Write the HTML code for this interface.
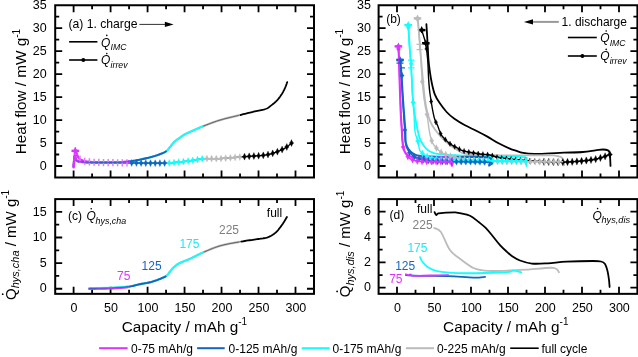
<!DOCTYPE html><html><head><meta charset="utf-8"><style>html,body{margin:0;padding:0;background:#fff;width:638px;height:357px;overflow:hidden}</style></head><body><svg width="638" height="357" viewBox="0 0 638 357" style="position:absolute;left:0;top:0;font-family:'Liberation Sans', sans-serif;will-change:transform">
<rect width="638" height="357" fill="#fff"/>
<path d="M73.60,177.50V170.50M73.60,5.25V12.25M110.58,177.50V170.50M110.58,5.25V12.25M147.57,177.50V170.50M147.57,5.25V12.25M184.55,177.50V170.50M184.55,5.25V12.25M221.53,177.50V170.50M221.53,5.25V12.25M258.52,177.50V170.50M258.52,5.25V12.25M295.50,177.50V170.50M295.50,5.25V12.25M92.09,177.50V173.50M92.09,5.25V9.25M129.07,177.50V173.50M129.07,5.25V9.25M166.06,177.50V173.50M166.06,5.25V9.25M203.04,177.50V173.50M203.04,5.25V9.25M240.03,177.50V173.50M240.03,5.25V9.25M277.01,177.50V173.50M277.01,5.25V9.25M55.20,166.00H62.20M314.00,166.00H307.00M55.20,143.03H62.20M314.00,143.03H307.00M55.20,120.07H62.20M314.00,120.07H307.00M55.20,97.10H62.20M314.00,97.10H307.00M55.20,74.13H62.20M314.00,74.13H307.00M55.20,51.17H62.20M314.00,51.17H307.00M55.20,28.20H62.20M314.00,28.20H307.00M55.20,154.52H59.20M314.00,154.52H310.00M55.20,131.55H59.20M314.00,131.55H310.00M55.20,108.58H59.20M314.00,108.58H310.00M55.20,85.62H59.20M314.00,85.62H310.00M55.20,62.65H59.20M314.00,62.65H310.00M55.20,39.68H59.20M314.00,39.68H310.00M55.20,16.72H59.20M314.00,16.72H310.00" stroke="#000" stroke-width="1.8" fill="none"/>
<rect x="55.20" y="5.25" width="258.80" height="172.25" fill="none" stroke="#000" stroke-width="2"/>
<path d="M397.00,177.50V170.50M397.00,5.25V12.25M434.00,177.50V170.50M434.00,5.25V12.25M471.00,177.50V170.50M471.00,5.25V12.25M508.00,177.50V170.50M508.00,5.25V12.25M545.00,177.50V170.50M545.00,5.25V12.25M582.00,177.50V170.50M582.00,5.25V12.25M619.00,177.50V170.50M619.00,5.25V12.25M415.50,177.50V173.50M415.50,5.25V9.25M452.50,177.50V173.50M452.50,5.25V9.25M489.50,177.50V173.50M489.50,5.25V9.25M526.50,177.50V173.50M526.50,5.25V9.25M563.50,177.50V173.50M563.50,5.25V9.25M600.50,177.50V173.50M600.50,5.25V9.25M378.60,166.00H385.60M637.40,166.00H630.40M378.60,143.03H385.60M637.40,143.03H630.40M378.60,120.07H385.60M637.40,120.07H630.40M378.60,97.10H385.60M637.40,97.10H630.40M378.60,74.13H385.60M637.40,74.13H630.40M378.60,51.17H385.60M637.40,51.17H630.40M378.60,28.20H385.60M637.40,28.20H630.40M378.60,154.52H382.60M637.40,154.52H633.40M378.60,131.55H382.60M637.40,131.55H633.40M378.60,108.58H382.60M637.40,108.58H633.40M378.60,85.62H382.60M637.40,85.62H633.40M378.60,62.65H382.60M637.40,62.65H633.40M378.60,39.68H382.60M637.40,39.68H633.40M378.60,16.72H382.60M637.40,16.72H633.40" stroke="#000" stroke-width="1.8" fill="none"/>
<rect x="378.60" y="5.25" width="258.80" height="172.25" fill="none" stroke="#000" stroke-width="2"/>
<path d="M73.60,293.85V286.85M73.60,199.10V206.10M110.58,293.85V286.85M110.58,199.10V206.10M147.57,293.85V286.85M147.57,199.10V206.10M184.55,293.85V286.85M184.55,199.10V206.10M221.53,293.85V286.85M221.53,199.10V206.10M258.52,293.85V286.85M258.52,199.10V206.10M295.50,293.85V286.85M295.50,199.10V206.10M92.09,293.85V289.85M92.09,199.10V203.10M129.07,293.85V289.85M129.07,199.10V203.10M166.06,293.85V289.85M166.06,199.10V203.10M203.04,293.85V289.85M203.04,199.10V203.10M240.03,293.85V289.85M240.03,199.10V203.10M277.01,293.85V289.85M277.01,199.10V203.10M55.20,288.75H62.20M314.00,288.75H307.00M55.20,263.12H62.20M314.00,263.12H307.00M55.20,237.48H62.20M314.00,237.48H307.00M55.20,211.85H62.20M314.00,211.85H307.00M55.20,275.93H59.20M314.00,275.93H310.00M55.20,250.30H59.20M314.00,250.30H310.00M55.20,224.67H59.20M314.00,224.67H310.00" stroke="#000" stroke-width="1.8" fill="none"/>
<rect x="55.20" y="199.10" width="258.80" height="94.75" fill="none" stroke="#000" stroke-width="2"/>
<path d="M397.00,293.85V286.85M397.00,199.10V206.10M434.00,293.85V286.85M434.00,199.10V206.10M471.00,293.85V286.85M471.00,199.10V206.10M508.00,293.85V286.85M508.00,199.10V206.10M545.00,293.85V286.85M545.00,199.10V206.10M582.00,293.85V286.85M582.00,199.10V206.10M619.00,293.85V286.85M619.00,199.10V206.10M415.50,293.85V289.85M415.50,199.10V203.10M452.50,293.85V289.85M452.50,199.10V203.10M489.50,293.85V289.85M489.50,199.10V203.10M526.50,293.85V289.85M526.50,199.10V203.10M563.50,293.85V289.85M563.50,199.10V203.10M600.50,293.85V289.85M600.50,199.10V203.10M378.60,287.70H385.60M637.40,287.70H630.40M378.60,262.37H385.60M637.40,262.37H630.40M378.60,237.03H385.60M637.40,237.03H630.40M378.60,211.70H385.60M637.40,211.70H630.40M378.60,275.03H382.60M637.40,275.03H633.40M378.60,249.70H382.60M637.40,249.70H633.40M378.60,224.37H382.60M637.40,224.37H633.40" stroke="#000" stroke-width="1.8" fill="none"/>
<rect x="378.60" y="199.10" width="258.80" height="94.75" fill="none" stroke="#000" stroke-width="2"/>
<text x="46.60" y="169.70" font-size="12.5" text-anchor="end" fill="#000" >0</text>
<text x="370.90" y="169.70" font-size="12.5" text-anchor="end" fill="#000" >0</text>
<text x="46.60" y="146.73" font-size="12.5" text-anchor="end" fill="#000" >5</text>
<text x="370.90" y="146.73" font-size="12.5" text-anchor="end" fill="#000" >5</text>
<text x="46.60" y="123.77" font-size="12.5" text-anchor="end" fill="#000" >10</text>
<text x="370.90" y="123.77" font-size="12.5" text-anchor="end" fill="#000" >10</text>
<text x="46.60" y="100.80" font-size="12.5" text-anchor="end" fill="#000" >15</text>
<text x="370.90" y="100.80" font-size="12.5" text-anchor="end" fill="#000" >15</text>
<text x="46.60" y="77.83" font-size="12.5" text-anchor="end" fill="#000" >20</text>
<text x="370.90" y="77.83" font-size="12.5" text-anchor="end" fill="#000" >20</text>
<text x="46.60" y="54.87" font-size="12.5" text-anchor="end" fill="#000" >25</text>
<text x="370.90" y="54.87" font-size="12.5" text-anchor="end" fill="#000" >25</text>
<text x="46.60" y="31.90" font-size="12.5" text-anchor="end" fill="#000" >30</text>
<text x="370.90" y="31.90" font-size="12.5" text-anchor="end" fill="#000" >30</text>
<text x="46.60" y="8.93" font-size="12.5" text-anchor="end" fill="#000" >35</text>
<text x="370.90" y="8.93" font-size="12.5" text-anchor="end" fill="#000" >35</text>
<text x="46.60" y="292.45" font-size="12.5" text-anchor="end" fill="#000" >0</text>
<text x="46.60" y="266.82" font-size="12.5" text-anchor="end" fill="#000" >5</text>
<text x="46.60" y="241.18" font-size="12.5" text-anchor="end" fill="#000" >10</text>
<text x="46.60" y="215.55" font-size="12.5" text-anchor="end" fill="#000" >15</text>
<text x="370.90" y="291.40" font-size="12.5" text-anchor="end" fill="#000" >0</text>
<text x="370.90" y="266.07" font-size="12.5" text-anchor="end" fill="#000" >2</text>
<text x="370.90" y="240.73" font-size="12.5" text-anchor="end" fill="#000" >4</text>
<text x="370.90" y="215.40" font-size="12.5" text-anchor="end" fill="#000" >6</text>
<text x="74.00" y="312.00" font-size="12.5" text-anchor="middle" fill="#000" >0</text>
<text x="397.40" y="312.00" font-size="12.5" text-anchor="middle" fill="#000" >0</text>
<text x="110.98" y="312.00" font-size="12.5" text-anchor="middle" fill="#000" >50</text>
<text x="434.40" y="312.00" font-size="12.5" text-anchor="middle" fill="#000" >50</text>
<text x="147.97" y="312.00" font-size="12.5" text-anchor="middle" fill="#000" >100</text>
<text x="471.40" y="312.00" font-size="12.5" text-anchor="middle" fill="#000" >100</text>
<text x="184.95" y="312.00" font-size="12.5" text-anchor="middle" fill="#000" >150</text>
<text x="508.40" y="312.00" font-size="12.5" text-anchor="middle" fill="#000" >150</text>
<text x="221.93" y="312.00" font-size="12.5" text-anchor="middle" fill="#000" >200</text>
<text x="545.40" y="312.00" font-size="12.5" text-anchor="middle" fill="#000" >200</text>
<text x="258.92" y="312.00" font-size="12.5" text-anchor="middle" fill="#000" >250</text>
<text x="582.40" y="312.00" font-size="12.5" text-anchor="middle" fill="#000" >250</text>
<text x="295.90" y="312.00" font-size="12.5" text-anchor="middle" fill="#000" >300</text>
<text x="619.40" y="312.00" font-size="12.5" text-anchor="middle" fill="#000" >300</text>
<text x="184.40" y="331.80" font-size="15.3" text-anchor="middle" fill="#000" >Capacity / mAh g<tspan font-size="10" dy="-6.5">-1</tspan></text>
<text x="505.80" y="331.80" font-size="15.3" text-anchor="middle" fill="#000" >Capacity / mAh g<tspan font-size="10" dy="-6.5">-1</tspan></text>
<text transform="translate(26.2,154.2) rotate(-90)" font-size="15.3">Heat flow / mW g<tspan font-size="10" dy="-6.5">-1</tspan></text>
<text transform="translate(349.8,154.2) rotate(-90)" font-size="15.3">Heat flow / mW g<tspan font-size="10" dy="-6.5">-1</tspan></text>
<text transform="translate(15.6,300.0) rotate(-90)" font-size="15">Q<tspan font-size="11" font-style="italic" dy="3.5">hys,cha</tspan><tspan dy="-3.5"> / mW g</tspan><tspan font-size="10" dy="-6.5">-1</tspan></text>
<circle cx="2.70" cy="294.20" r="0.9" fill="#000"/>
<text transform="translate(350.0,297.2) rotate(-90)" font-size="15">Q<tspan font-size="11" font-style="italic" dy="3.6">hys,dis</tspan><tspan dy="-3.6"> / mW g</tspan><tspan font-size="10" dy="-6.5">-1</tspan></text>
<circle cx="337.10" cy="291.40" r="0.9" fill="#000"/>
<defs><clipPath id="cA"><rect x="56" y="6" width="257" height="171"/></clipPath><clipPath id="cB"><rect x="379.5" y="6" width="257" height="171"/></clipPath></defs>
<g clip-path="url(#cA)">
<path d="M240.17,115.01 L241.79,114.61 L243.31,114.23 L244.74,113.87 L246.09,113.53 L247.39,113.21 L248.64,112.90 L249.87,112.60 L251.09,112.30 L252.32,112.01 L253.56,111.71 L254.84,111.41 L256.14,111.13 L257.44,110.86 L258.74,110.59 L260.01,110.33 L261.23,110.07 L262.40,109.80 L263.49,109.54 L264.50,109.27 L265.40,109.00 L266.16,108.73 L266.80,108.48 L267.33,108.23 L267.79,107.99 L268.19,107.74 L268.57,107.48 L268.95,107.19 L269.36,106.87 L269.81,106.51 L270.35,106.10 L270.96,105.65 L271.61,105.15 L272.29,104.61 L272.99,104.05 L273.71,103.46 L274.42,102.85 L275.13,102.22 L275.81,101.59 L276.47,100.95 L277.08,100.32 L277.67,99.67 L278.24,99.01 L278.79,98.33 L279.33,97.64 L279.85,96.95 L280.35,96.25 L280.84,95.54 L281.30,94.85 L281.75,94.15 L282.19,93.47 L282.60,92.79 L282.99,92.10 L283.37,91.40 L283.72,90.70 L284.06,90.01 L284.39,89.33 L284.69,88.66 L284.98,88.02 L285.26,87.40 L285.51,86.81 L285.76,86.24 L285.99,85.67 L286.20,85.10 L286.39,84.55 L286.57,84.03 L286.74,83.54 L286.88,83.09 L287.01,82.69 L287.12,82.35 L287.22,82.08" fill="none" stroke="#000000" stroke-width="1.8" stroke-linejoin="round" stroke-linecap="round"/>
<path d="M73.60,166.46 L73.67,165.80 L73.75,164.88 L73.85,163.77 L73.96,162.53 L74.09,161.23 L74.21,159.96 L74.34,158.76 L74.47,157.71 L74.59,156.89 L74.71,156.35 L74.82,156.11 L74.93,156.10 L75.03,156.26 L75.14,156.57 L75.24,156.99 L75.35,157.46 L75.46,157.95 L75.57,158.41 L75.69,158.81 L75.82,159.11 L75.94,159.34 L76.06,159.55 L76.17,159.76 L76.28,159.96 L76.40,160.14 L76.53,160.32 L76.68,160.49 L76.85,160.65 L77.06,160.80 L77.30,160.95 L77.56,161.08 L77.84,161.20 L78.13,161.30 L78.44,161.40 L78.78,161.49 L79.14,161.58 L79.55,161.65 L79.98,161.73 L80.47,161.80 L81.00,161.87 L81.55,161.93 L82.12,161.99 L82.71,162.04 L83.33,162.09 L84.00,162.14 L84.72,162.18 L85.51,162.22 L86.38,162.26 L87.34,162.29 L88.39,162.33 L89.57,162.36 L90.88,162.39 L92.29,162.42 L93.78,162.45 L95.33,162.48 L96.91,162.50 L98.52,162.52 L100.11,162.54 L101.67,162.55 L103.19,162.56 L104.68,162.56 L106.19,162.56 L107.72,162.57 L109.25,162.57 L110.77,162.56 L112.28,162.55 L113.76,162.53 L115.21,162.51 L116.62,162.47 L117.98,162.42 L119.29,162.36 L120.56,162.28 L121.80,162.20 L123.00,162.11 L124.18,162.02 L125.34,161.91 L126.48,161.79 L127.60,161.67 L128.71,161.54 L129.81,161.41 L130.90,161.26 L131.96,161.11 L133.00,160.94 L134.03,160.77 L135.03,160.59 L136.03,160.41 L137.03,160.21 L138.02,160.02 L139.02,159.82 L140.02,159.62 L141.04,159.41 L142.06,159.19 L143.09,158.97 L144.11,158.74 L145.13,158.51 L146.14,158.28 L147.14,158.04 L148.12,157.80 L149.08,157.56 L150.01,157.32 L150.91,157.08 L151.80,156.84 L152.66,156.61 L153.50,156.37 L154.33,156.12 L155.15,155.88 L155.96,155.62 L156.77,155.36 L157.57,155.08 L158.37,154.79 L159.17,154.49 L159.99,154.19 L160.81,153.87 L161.63,153.55 L162.43,153.22 L163.22,152.88 L163.97,152.53 L164.69,152.16 L165.36,151.79 L165.98,151.39 L166.54,150.98 L167.05,150.56 L167.50,150.12 L167.92,149.66 L168.31,149.20 L168.68,148.72 L169.04,148.25 L169.41,147.76 L169.79,147.28 L170.20,146.80 L170.62,146.31 L171.02,145.81 L171.42,145.30 L171.82,144.79 L172.23,144.27 L172.63,143.76 L173.05,143.25 L173.49,142.75 L173.94,142.26 L174.42,141.79 L174.92,141.34 L175.46,140.89 L176.01,140.44 L176.59,140.01 L177.17,139.58 L177.75,139.17 L178.33,138.76 L178.89,138.37 L179.44,137.98 L179.96,137.61 L180.46,137.26 L180.92,136.92 L181.37,136.60 L181.81,136.29 L182.24,135.99 L182.68,135.69 L183.12,135.40 L183.57,135.11 L184.05,134.83 L184.55,134.54 L185.04,134.26 L185.51,134.01 L185.95,133.78 L186.41,133.56 L186.88,133.33 L187.41,133.08 L187.99,132.82 L188.66,132.52 L189.43,132.18 L190.32,131.78 L191.34,131.32 L192.46,130.82 L193.68,130.27 L194.99,129.69 L196.36,129.08 L197.78,128.46 L199.24,127.83 L200.72,127.20 L202.22,126.59 L203.71,125.99 L205.20,125.40 L206.71,124.81 L208.25,124.21 L209.82,123.61 L211.42,123.01 L213.05,122.41 L214.72,121.82 L216.43,121.24 L218.18,120.67 L219.98,120.11 L221.87,119.56 L223.88,119.01 L225.96,118.47 L228.10,117.93 L230.26,117.40 L232.40,116.89 L234.49,116.39 L236.51,115.91 L238.41,115.45" fill="none" stroke="#bbbbbb" stroke-width="2.3" stroke-linejoin="round" stroke-linecap="round"/>
<path d="M73.60,166.46 L73.67,165.80 L73.75,164.88 L73.85,163.77 L73.96,162.53 L74.09,161.23 L74.21,159.96 L74.34,158.76 L74.47,157.71 L74.59,156.89 L74.71,156.35 L74.82,156.11 L74.93,156.10 L75.03,156.26 L75.14,156.57 L75.24,156.99 L75.35,157.46 L75.46,157.95 L75.57,158.41 L75.69,158.81 L75.82,159.11 L75.94,159.34 L76.06,159.55 L76.17,159.76 L76.28,159.96 L76.40,160.14 L76.53,160.32 L76.68,160.49 L76.85,160.65 L77.06,160.80 L77.30,160.95 L77.56,161.08 L77.84,161.20 L78.13,161.30 L78.44,161.40 L78.78,161.49 L79.14,161.58 L79.55,161.65 L79.98,161.73 L80.47,161.80 L81.00,161.87 L81.55,161.93 L82.12,161.99 L82.71,162.04 L83.33,162.09 L84.00,162.14 L84.72,162.18 L85.51,162.22 L86.38,162.26 L87.34,162.29 L88.39,162.33 L89.57,162.36 L90.88,162.39 L92.29,162.42 L93.78,162.45 L95.33,162.48 L96.91,162.50 L98.52,162.52 L100.11,162.54 L101.67,162.55 L103.19,162.56 L104.68,162.56 L106.19,162.56 L107.72,162.57 L109.25,162.57 L110.77,162.56 L112.28,162.55 L113.76,162.53 L115.21,162.51 L116.62,162.47 L117.98,162.42 L119.29,162.36 L120.56,162.28 L121.80,162.20 L123.00,162.11 L124.18,162.02 L125.34,161.91 L126.48,161.79 L127.60,161.67 L128.71,161.54 L129.81,161.41 L130.90,161.26 L131.96,161.11 L133.00,160.94 L134.03,160.77 L135.03,160.59 L136.03,160.41 L137.03,160.21 L138.02,160.02 L139.02,159.82 L140.02,159.62 L141.04,159.41 L142.06,159.19 L143.09,158.97 L144.11,158.74 L145.13,158.51 L146.14,158.28 L147.14,158.04 L148.12,157.80 L149.08,157.56 L150.01,157.32 L150.91,157.08 L151.80,156.84 L152.66,156.61 L153.50,156.37 L154.33,156.12 L155.15,155.88 L155.96,155.62 L156.77,155.36 L157.57,155.08 L158.37,154.79 L159.17,154.49 L159.99,154.19 L160.81,153.87 L161.63,153.55 L162.43,153.22 L163.22,152.88 L163.97,152.53 L164.69,152.16 L165.36,151.79 L165.98,151.39 L166.54,150.98 L167.05,150.56 L167.50,150.12 L167.92,149.66 L168.31,149.20 L168.68,148.72 L169.04,148.25 L169.41,147.76 L169.79,147.28 L170.20,146.80 L170.62,146.31 L171.02,145.81 L171.42,145.30 L171.82,144.79 L172.23,144.27 L172.63,143.76 L173.05,143.25 L173.49,142.75 L173.94,142.26 L174.42,141.79 L174.92,141.34 L175.46,140.89 L176.01,140.44 L176.59,140.01 L177.17,139.58 L177.75,139.17 L178.33,138.76 L178.89,138.37 L179.44,137.98 L179.96,137.61 L180.46,137.26 L180.92,136.92 L181.37,136.60 L181.81,136.29 L182.24,135.99 L182.68,135.69 L183.12,135.40 L183.57,135.11 L184.05,134.83 L184.55,134.54 L185.04,134.26 L185.51,134.01 L185.95,133.78 L186.41,133.56 L186.88,133.33 L187.41,133.08 L187.99,132.82 L188.66,132.52 L189.43,132.18 L190.32,131.78 L191.34,131.32 L192.46,130.82 L193.68,130.27 L194.99,129.69 L196.36,129.08 L197.78,128.46 L199.24,127.83 L200.72,127.20 L202.22,126.59 L203.71,125.99 L205.20,125.40 L206.71,124.81 L208.25,124.21 L209.82,123.61 L211.42,123.01 L213.05,122.41 L214.72,121.82 L216.43,121.24 L218.18,120.67 L219.98,120.11 L221.87,119.56 L223.88,119.01 L225.96,118.47 L228.10,117.93 L230.26,117.40 L232.40,116.89 L234.49,116.39 L236.51,115.91 L238.41,115.45" fill="none" stroke="#444" stroke-width="0.75" stroke-linejoin="round" stroke-linecap="round"/>
<path d="M73.60,166.46 L73.67,165.80 L73.75,164.88 L73.85,163.77 L73.96,162.53 L74.09,161.23 L74.21,159.96 L74.34,158.76 L74.47,157.71 L74.59,156.89 L74.71,156.35 L74.82,156.11 L74.93,156.10 L75.03,156.26 L75.14,156.57 L75.24,156.99 L75.35,157.46 L75.46,157.95 L75.57,158.41 L75.69,158.81 L75.82,159.11 L75.94,159.34 L76.06,159.55 L76.17,159.76 L76.28,159.96 L76.40,160.14 L76.53,160.32 L76.68,160.49 L76.85,160.65 L77.06,160.80 L77.30,160.95 L77.56,161.08 L77.84,161.20 L78.13,161.30 L78.44,161.40 L78.78,161.49 L79.14,161.58 L79.55,161.65 L79.98,161.73 L80.47,161.80 L81.00,161.87 L81.55,161.93 L82.12,161.99 L82.71,162.04 L83.33,162.09 L84.00,162.14 L84.72,162.18 L85.51,162.22 L86.38,162.26 L87.34,162.29 L88.39,162.33 L89.57,162.36 L90.88,162.39 L92.29,162.42 L93.78,162.45 L95.33,162.48 L96.91,162.50 L98.52,162.52 L100.11,162.54 L101.67,162.55 L103.19,162.56 L104.68,162.56 L106.19,162.56 L107.72,162.57 L109.25,162.57 L110.77,162.56 L112.28,162.55 L113.76,162.53 L115.21,162.51 L116.62,162.47 L117.98,162.42 L119.29,162.36 L120.56,162.28 L121.80,162.20 L123.00,162.11 L124.18,162.02 L125.34,161.91 L126.48,161.79 L127.60,161.67 L128.71,161.54 L129.81,161.41 L130.90,161.26 L131.96,161.11 L133.00,160.94 L134.03,160.77 L135.03,160.59 L136.03,160.41 L137.03,160.21 L138.02,160.02 L139.02,159.82 L140.02,159.62 L141.04,159.41 L142.06,159.19 L143.09,158.97 L144.11,158.74 L145.13,158.51 L146.14,158.28 L147.14,158.04 L148.12,157.80 L149.08,157.56 L150.01,157.32 L150.91,157.08 L151.80,156.84 L152.66,156.61 L153.50,156.37 L154.33,156.12 L155.15,155.88 L155.96,155.62 L156.77,155.36 L157.57,155.08 L158.37,154.79 L159.17,154.49 L159.99,154.19 L160.81,153.87 L161.63,153.55 L162.43,153.22 L163.22,152.88 L163.97,152.53 L164.69,152.16 L165.36,151.79 L165.98,151.39 L166.54,150.98 L167.05,150.56 L167.50,150.12 L167.92,149.66 L168.31,149.20 L168.68,148.72 L169.04,148.25 L169.41,147.76 L169.79,147.28 L170.20,146.80 L170.62,146.31 L171.02,145.81 L171.42,145.30 L171.82,144.79 L172.23,144.27 L172.63,143.76 L173.05,143.25 L173.49,142.75 L173.94,142.26 L174.42,141.79 L174.92,141.34 L175.46,140.89 L176.01,140.44 L176.59,140.01 L177.17,139.58 L177.75,139.17 L178.33,138.76 L178.89,138.37 L179.44,137.98 L179.96,137.61 L180.46,137.26 L180.92,136.92 L181.37,136.60 L181.81,136.29 L182.24,135.99 L182.68,135.69 L183.12,135.40 L183.57,135.11 L184.05,134.83 L184.55,134.54 L185.04,134.26 L185.51,134.01 L185.95,133.78 L186.41,133.56 L186.88,133.33 L187.41,133.08 L187.99,132.82 L188.66,132.52 L189.43,132.18 L190.32,131.78 L191.34,131.32 L192.46,130.82 L193.68,130.27 L194.99,129.69 L196.36,129.08 L197.78,128.46 L199.24,127.83 L200.72,127.20 L202.22,126.59" fill="none" stroke="#11ffff" stroke-width="1.9" stroke-linejoin="round" stroke-linecap="round"/>
<path d="M73.60,166.46 L73.67,165.80 L73.75,164.88 L73.85,163.77 L73.96,162.53 L74.09,161.23 L74.21,159.96 L74.34,158.76 L74.47,157.71 L74.59,156.89 L74.71,156.35 L74.82,156.11 L74.93,156.10 L75.03,156.26 L75.14,156.57 L75.24,156.99 L75.35,157.46 L75.46,157.95 L75.57,158.41 L75.69,158.81 L75.82,159.11 L75.94,159.34 L76.06,159.55 L76.17,159.76 L76.28,159.96 L76.40,160.14 L76.53,160.32 L76.68,160.49 L76.85,160.65 L77.06,160.80 L77.30,160.95 L77.56,161.08 L77.84,161.20 L78.13,161.30 L78.44,161.40 L78.78,161.49 L79.14,161.58 L79.55,161.65 L79.98,161.73 L80.47,161.80 L81.00,161.87 L81.55,161.93 L82.12,161.99 L82.71,162.04 L83.33,162.09 L84.00,162.14 L84.72,162.18 L85.51,162.22 L86.38,162.26 L87.34,162.29 L88.39,162.33 L89.57,162.36 L90.88,162.39 L92.29,162.42 L93.78,162.45 L95.33,162.48 L96.91,162.50 L98.52,162.52 L100.11,162.54 L101.67,162.55 L103.19,162.56 L104.68,162.56 L106.19,162.56 L107.72,162.57 L109.25,162.57 L110.77,162.56 L112.28,162.55 L113.76,162.53 L115.21,162.51 L116.62,162.47 L117.98,162.42 L119.29,162.36 L120.56,162.28 L121.80,162.20 L123.00,162.11 L124.18,162.02 L125.34,161.91 L126.48,161.79 L127.60,161.67 L128.71,161.54 L129.81,161.41 L130.90,161.26 L131.96,161.11 L133.00,160.94 L134.03,160.77 L135.03,160.59 L136.03,160.41 L137.03,160.21 L138.02,160.02 L139.02,159.82 L140.02,159.62 L141.04,159.41 L142.06,159.19 L143.09,158.97 L144.11,158.74 L145.13,158.51 L146.14,158.28 L147.14,158.04 L148.12,157.80 L149.08,157.56 L150.01,157.32 L150.91,157.08 L151.80,156.84 L152.66,156.61 L153.50,156.37 L154.33,156.12 L155.15,155.88 L155.96,155.62 L156.77,155.36 L157.57,155.08 L158.37,154.79 L159.17,154.49 L159.99,154.19 L160.81,153.87 L161.63,153.55 L162.43,153.22 L163.22,152.88 L163.97,152.53 L164.69,152.16 L165.36,151.79 L165.98,151.39" fill="none" stroke="#1166c0" stroke-width="1.9" stroke-linejoin="round" stroke-linecap="round"/>
<path d="M118.34,162.78 L120.43,162.79 L122.53,162.81 L124.62,162.82 L126.67,162.84 L128.65,162.86 L130.55,162.88 L132.36,162.90 L134.10,162.93 L135.78,162.97 L137.43,163.00 L139.06,163.03 L140.69,163.07 L142.34,163.10 L144.02,163.12 L145.76,163.14 L147.57,163.15 L149.47,163.16 L151.48,163.17 L153.55,163.17 L155.66,163.18 L157.78,163.17 L159.89,163.16 L161.94,163.14 L163.92,163.11 L165.80,163.07 L167.54,163.01 L169.15,162.94 L170.66,162.85 L172.09,162.75 L173.45,162.64 L174.75,162.52 L176.01,162.39 L177.23,162.26 L178.44,162.13 L179.64,161.99 L180.85,161.87 L182.05,161.74 L183.20,161.61 L184.32,161.48 L185.41,161.35 L186.49,161.22 L187.56,161.08 L188.63,160.94 L189.72,160.79 L190.82,160.64 L191.95,160.49 L193.07,160.32 L194.17,160.13 L195.26,159.93 L196.34,159.72 L197.45,159.52 L198.59,159.32 L199.77,159.13 L201.02,158.96 L202.35,158.81 L203.78,158.70 L205.30,158.62 L206.91,158.58 L208.58,158.57 L210.31,158.58 L212.10,158.60 L213.94,158.62 L215.80,158.63 L217.70,158.62 L219.61,158.59 L221.53,158.51 L223.51,158.40 L225.59,158.26 L227.74,158.09 L229.92,157.90 L232.12,157.71 L234.30,157.51 L236.43,157.31 L238.48,157.13 L240.43,156.96 L242.24,156.81 L243.94,156.69 L245.55,156.58 L247.09,156.48 L248.56,156.39 L249.96,156.31 L251.32,156.22 L252.62,156.15 L253.88,156.07 L255.10,155.98 L256.30,155.89 L257.44,155.81 L258.52,155.73 L259.53,155.66 L260.50,155.59 L261.43,155.52 L262.33,155.44 L263.22,155.35 L264.11,155.25 L265.00,155.12 L265.91,154.98 L266.83,154.81 L267.74,154.63 L268.63,154.44 L269.52,154.23 L270.40,154.01 L271.27,153.78 L272.15,153.53 L273.03,153.26 L273.91,152.98 L274.79,152.68 L275.70,152.35 L276.64,151.99 L277.59,151.60 L278.55,151.20 L279.50,150.78 L280.43,150.36 L281.33,149.95 L282.17,149.55 L282.96,149.17 L283.67,148.82 L284.29,148.50 L284.85,148.20 L285.35,147.92 L285.80,147.64 L286.21,147.38 L286.59,147.12 L286.97,146.86 L287.33,146.59 L287.71,146.31 L288.10,146.02 L288.52,145.70 L288.95,145.35 L289.38,144.98 L289.81,144.61 L290.23,144.24 L290.62,143.88 L290.99,143.54 L291.31,143.25 L291.58,143.00 L291.80,142.80" fill="none" stroke="#000000" stroke-width="1.3" stroke-linejoin="round" stroke-linecap="round"/>
<path d="M118.34,162.78 L120.43,162.79 L122.53,162.81 L124.62,162.82 L126.67,162.84 L128.65,162.86 L130.55,162.88 L132.36,162.90 L134.10,162.93 L135.78,162.97 L137.43,163.00 L139.06,163.03 L140.69,163.07 L142.34,163.10 L144.02,163.12 L145.76,163.14 L147.57,163.15 L149.47,163.16 L151.48,163.17 L153.55,163.17 L155.66,163.18 L157.78,163.17 L159.89,163.16 L161.94,163.14 L163.92,163.11 L165.80,163.07 L167.54,163.01 L169.15,162.94 L170.66,162.85 L172.09,162.75 L173.45,162.64 L174.75,162.52 L176.01,162.39 L177.23,162.26 L178.44,162.13 L179.64,161.99 L180.85,161.87 L182.05,161.74 L183.20,161.61 L184.32,161.48 L185.41,161.35 L186.49,161.22 L187.56,161.08 L188.63,160.94 L189.72,160.79 L190.82,160.64 L191.95,160.49 L193.07,160.32 L194.17,160.13 L195.26,159.93 L196.34,159.72 L197.45,159.52 L198.59,159.32 L199.77,159.13 L201.02,158.96 L202.35,158.81 L203.78,158.70 L205.30,158.62 L206.91,158.58 L208.58,158.57 L210.31,158.58 L212.10,158.60 L213.94,158.62 L215.80,158.63 L217.70,158.62 L219.61,158.59 L221.53,158.51 L223.51,158.40 L225.59,158.26 L227.74,158.09 L229.92,157.90 L232.12,157.71 L234.30,157.51 L236.43,157.31 L238.48,157.13" fill="none" stroke="#bbbbbb" stroke-width="1.3" stroke-linejoin="round" stroke-linecap="round"/>
<path d="M118.34,162.78 L120.43,162.79 L122.53,162.81 L124.62,162.82 L126.67,162.84 L128.65,162.86 L130.55,162.88 L132.36,162.90 L134.10,162.93 L135.78,162.97 L137.43,163.00 L139.06,163.03 L140.69,163.07 L142.34,163.10 L144.02,163.12 L145.76,163.14 L147.57,163.15 L149.47,163.16 L151.48,163.17 L153.55,163.17 L155.66,163.18 L157.78,163.17 L159.89,163.16 L161.94,163.14 L163.92,163.11 L165.80,163.07 L167.54,163.01 L169.15,162.94 L170.66,162.85 L172.09,162.75 L173.45,162.64 L174.75,162.52 L176.01,162.39 L177.23,162.26 L178.44,162.13 L179.64,161.99 L180.85,161.87 L182.05,161.74 L183.20,161.61 L184.32,161.48 L185.41,161.35 L186.49,161.22 L187.56,161.08 L188.63,160.94 L189.72,160.79 L190.82,160.64 L191.95,160.49 L193.07,160.32 L194.17,160.13 L195.26,159.93 L196.34,159.72 L197.45,159.52 L198.59,159.32 L199.77,159.13 L201.02,158.96 L202.35,158.81" fill="none" stroke="#11ffff" stroke-width="1.3" stroke-linejoin="round" stroke-linecap="round"/>
<path d="M118.34,162.78 L120.43,162.79 L122.53,162.81 L124.62,162.82 L126.67,162.84 L128.65,162.86 L130.55,162.88 L132.36,162.90 L134.10,162.93 L135.78,162.97 L137.43,163.00 L139.06,163.03 L140.69,163.07 L142.34,163.10 L144.02,163.12 L145.76,163.14 L147.57,163.15 L149.47,163.16 L151.48,163.17 L153.55,163.17 L155.66,163.18 L157.78,163.17 L159.89,163.16 L161.94,163.14 L163.92,163.11 L165.80,163.07" fill="none" stroke="#1166c0" stroke-width="1.3" stroke-linejoin="round" stroke-linecap="round"/>
<path d="M244.50,153.15L245.60,155.55L246.80,156.65L245.60,157.75L244.50,160.15L243.40,157.75L242.20,156.65L243.40,155.55ZM249.20,152.85L250.30,155.25L251.50,156.35L250.30,157.45L249.20,159.85L248.10,157.45L246.90,156.35L248.10,155.25ZM253.90,152.56L255.00,154.96L256.20,156.06L255.00,157.16L253.90,159.56L252.80,157.16L251.60,156.06L252.80,154.96ZM258.60,152.23L259.70,154.63L260.90,155.73L259.70,156.83L258.60,159.23L257.50,156.83L256.30,155.73L257.50,154.63ZM263.30,151.84L264.40,154.24L265.60,155.34L264.40,156.44L263.30,158.84L262.20,156.44L261.00,155.34L262.20,154.24ZM268.00,151.07L269.10,153.47L270.30,154.57L269.10,155.67L268.00,158.07L266.90,155.67L265.70,154.57L266.90,153.47ZM272.70,149.86L273.80,152.26L275.00,153.36L273.80,154.46L272.70,156.86L271.60,154.46L270.40,153.36L271.60,152.26ZM277.40,148.18L278.50,150.58L279.70,151.68L278.50,152.78L277.40,155.18L276.30,152.78L275.10,151.68L276.30,150.58ZM282.10,146.08L283.20,148.48L284.40,149.58L283.20,150.68L282.10,153.08L281.00,150.68L279.80,149.58L281.00,148.48ZM286.80,143.47L287.90,145.87L289.10,146.97L287.90,148.07L286.80,150.47L285.70,148.07L284.50,146.97L285.70,145.87ZM291.50,139.57L292.60,141.97L293.80,143.07L292.60,144.17L291.50,146.57L290.40,144.17L289.20,143.07L290.40,141.97Z" fill="#000000" stroke="#000000" stroke-width="0.3" stroke-linejoin="round" />
<path d="M206.90,155.08L208.00,157.48L209.20,158.58L208.00,159.68L206.90,162.08L205.80,159.68L204.60,158.58L205.80,157.48ZM211.60,155.09L212.70,157.49L213.90,158.59L212.70,159.69L211.60,162.09L210.50,159.69L209.30,158.59L210.50,157.49ZM216.30,155.13L217.40,157.53L218.60,158.63L217.40,159.73L216.30,162.13L215.20,159.73L214.00,158.63L215.20,157.53ZM221.00,155.04L222.10,157.44L223.30,158.54L222.10,159.64L221.00,162.04L219.90,159.64L218.70,158.54L219.90,157.44ZM225.70,154.75L226.80,157.15L228.00,158.25L226.80,159.35L225.70,161.75L224.60,159.35L223.40,158.25L224.60,157.15ZM230.40,154.36L231.50,156.76L232.70,157.86L231.50,158.96L230.40,161.36L229.30,158.96L228.10,157.86L229.30,156.76ZM235.10,153.94L236.20,156.34L237.40,157.44L236.20,158.54L235.10,160.94L234.00,158.54L232.80,157.44L234.00,156.34ZM239.80,153.51L240.90,155.91L242.10,157.01L240.90,158.11L239.80,160.51L238.70,158.11L237.50,157.01L238.70,155.91Z" fill="#bbbbbb" stroke="#bbbbbb" stroke-width="0.3" stroke-linejoin="round" />
<path d="M169.30,159.43L170.40,161.83L171.60,162.93L170.40,164.03L169.30,166.43L168.20,164.03L167.00,162.93L168.20,161.83ZM174.00,159.09L175.10,161.49L176.30,162.59L175.10,163.69L174.00,166.09L172.90,163.69L171.70,162.59L172.90,161.49ZM178.70,158.60L179.80,161.00L181.00,162.10L179.80,163.20L178.70,165.60L177.60,163.20L176.40,162.10L177.60,161.00ZM183.40,158.09L184.50,160.49L185.70,161.59L184.50,162.69L183.40,165.09L182.30,162.69L181.10,161.59L182.30,160.49ZM188.10,157.51L189.20,159.91L190.40,161.01L189.20,162.11L188.10,164.51L187.00,162.11L185.80,161.01L187.00,159.91ZM192.80,156.86L193.90,159.26L195.10,160.36L193.90,161.46L192.80,163.86L191.70,161.46L190.50,160.36L191.70,159.26ZM197.50,156.01L198.60,158.41L199.80,159.51L198.60,160.61L197.50,163.01L196.40,160.61L195.20,159.51L196.40,158.41ZM202.20,155.33L203.30,157.73L204.50,158.83L203.30,159.93L202.20,162.33L201.10,159.93L199.90,158.83L201.10,157.73Z" fill="#11ffff" stroke="#11ffff" stroke-width="0.3" stroke-linejoin="round" />
<path d="M131.70,159.39L132.80,161.79L134.00,162.89L132.80,163.99L131.70,166.39L130.60,163.99L129.40,162.89L130.60,161.79ZM136.40,159.48L137.50,161.88L138.70,162.98L137.50,164.08L136.40,166.48L135.30,164.08L134.10,162.98L135.30,161.88ZM141.10,159.57L142.20,161.97L143.40,163.07L142.20,164.17L141.10,166.57L140.00,164.17L138.80,163.07L140.00,161.97ZM145.80,159.64L146.90,162.04L148.10,163.14L146.90,164.24L145.80,166.64L144.70,164.24L143.50,163.14L144.70,162.04ZM150.50,159.66L151.60,162.06L152.80,163.16L151.60,164.26L150.50,166.66L149.40,164.26L148.20,163.16L149.40,162.06ZM155.20,159.68L156.30,162.08L157.50,163.18L156.30,164.28L155.20,166.68L154.10,164.28L152.90,163.18L154.10,162.08ZM159.90,159.66L161.00,162.06L162.20,163.16L161.00,164.26L159.90,166.66L158.80,164.26L157.60,163.16L158.80,162.06ZM164.60,159.60L165.70,162.00L166.90,163.10L165.70,164.20L164.60,166.60L163.50,164.20L162.30,163.10L163.50,162.00Z" fill="#1166c0" stroke="#1166c0" stroke-width="0.3" stroke-linejoin="round" />
<path d="M73.60,167.38 L73.70,166.30 L73.83,164.79 L73.98,162.97 L74.14,160.94 L74.33,158.82 L74.52,156.73 L74.72,154.77 L74.91,153.06 L75.11,151.71 L75.30,150.84 L75.49,150.45 L75.68,150.43 L75.87,150.71 L76.07,151.22 L76.27,151.90 L76.47,152.68 L76.67,153.49 L76.88,154.27 L77.09,154.94 L77.30,155.44 L77.51,155.82 L77.72,156.19 L77.92,156.54 L78.13,156.89 L78.35,157.22 L78.57,157.53 L78.79,157.83 L79.02,158.12 L79.26,158.39 L79.52,158.65 L79.78,158.89 L80.04,159.12 L80.30,159.32 L80.58,159.52 L80.86,159.70 L81.15,159.87 L81.46,160.03 L81.78,160.19 L82.12,160.34 L82.48,160.49 L82.84,160.63 L83.20,160.77 L83.56,160.90 L83.93,161.02 L84.33,161.13 L84.75,161.24 L85.21,161.35 L85.72,161.45 L86.28,161.54 L86.91,161.64 L87.60,161.73 L88.31,161.81 L89.06,161.89 L89.86,161.96 L90.70,162.03 L91.60,162.09 L92.55,162.16 L93.57,162.22 L94.64,162.27 L95.79,162.33 L97.01,162.38 L98.29,162.42 L99.63,162.46 L101.03,162.50 L102.49,162.54 L104.01,162.57 L105.58,162.61 L107.20,162.64 L108.87,162.66 L110.58,162.69 L112.38,162.72 L114.29,162.74 L116.29,162.76 L118.34,162.78 L120.43,162.79 L122.53,162.81 L124.62,162.82 L126.67,162.84 L128.65,162.86" fill="none" stroke="#dd33ff" stroke-width="2.4" stroke-linejoin="round" stroke-linecap="round"/>
<path d="M73.60,166.46 L73.67,165.80 L73.75,164.88 L73.85,163.77 L73.96,162.53 L74.09,161.23 L74.21,159.96 L74.34,158.76 L74.47,157.71 L74.59,156.89 L74.71,156.35 L74.82,156.11 L74.93,156.10 L75.03,156.26 L75.14,156.57 L75.24,156.99 L75.35,157.46 L75.46,157.95 L75.57,158.41 L75.69,158.81 L75.82,159.11 L75.94,159.34 L76.06,159.55 L76.17,159.76 L76.28,159.96 L76.40,160.14 L76.53,160.32 L76.68,160.49 L76.85,160.65 L77.06,160.80 L77.30,160.95 L77.56,161.08 L77.84,161.20 L78.13,161.30 L78.44,161.40 L78.78,161.49 L79.14,161.58 L79.55,161.65 L79.98,161.73 L80.47,161.80 L81.00,161.87 L81.55,161.93 L82.12,161.99 L82.71,162.04 L83.33,162.09 L84.00,162.14 L84.72,162.18 L85.51,162.22 L86.38,162.26 L87.34,162.29 L88.39,162.33 L89.57,162.36 L90.88,162.39 L92.29,162.42 L93.78,162.45 L95.33,162.48 L96.91,162.50 L98.52,162.52 L100.11,162.54 L101.67,162.55 L103.19,162.56 L104.68,162.56 L106.19,162.56 L107.72,162.57 L109.25,162.57 L110.77,162.56 L112.28,162.55 L113.76,162.53 L115.21,162.51 L116.62,162.47 L117.98,162.42 L119.29,162.36 L120.56,162.28 L121.80,162.20 L123.00,162.11 L124.18,162.02 L125.34,161.91 L126.48,161.79 L127.60,161.67 L128.71,161.54" fill="none" stroke="#dd33ff" stroke-width="2.4" stroke-linejoin="round" stroke-linecap="round"/>
<path d="M75.30,147.24V154.44M80.00,155.49V162.69M84.70,157.63V164.83M89.40,158.32V165.52M94.10,158.64V165.84M98.80,158.84V166.04M103.50,158.96V166.16M108.20,159.05V166.25M112.90,159.12V166.32M117.60,159.17V166.37M122.30,159.20V166.40M127.00,159.24V166.44" stroke="#e47cf8" stroke-width="1.5" fill="none"/>
<path d="M76.68,160.49 L76.85,160.65 L77.06,160.80 L77.30,160.95 L77.56,161.08 L77.84,161.20 L78.13,161.30 L78.44,161.40 L78.78,161.49 L79.14,161.58 L79.55,161.65 L79.98,161.73 L80.47,161.80 L81.00,161.87 L81.55,161.93 L82.12,161.99 L82.71,162.04 L83.33,162.09 L84.00,162.14 L84.72,162.18 L85.51,162.22 L86.38,162.26 L87.34,162.29 L88.39,162.33 L89.57,162.36 L90.88,162.39 L92.29,162.42 L93.78,162.45 L95.33,162.48 L96.91,162.50 L98.52,162.52 L100.11,162.54 L101.67,162.55 L103.19,162.56 L104.68,162.56 L106.19,162.56 L107.72,162.57 L109.25,162.57 L110.77,162.56 L112.28,162.55 L113.76,162.53 L115.21,162.51 L116.62,162.47 L117.98,162.42 L119.29,162.36 L120.56,162.28 L121.80,162.20 L123.00,162.11 L124.18,162.02 L125.34,161.91 L126.48,161.79 L127.60,161.67 L128.71,161.54" fill="none" stroke="#1166c0" stroke-width="0.9" stroke-linejoin="round" stroke-linecap="round"/>
<path d="M75.30,146.84L76.60,149.44L79.10,149.64L79.10,152.04L76.60,152.24L75.30,154.04L74.00,152.24L71.50,152.04L71.50,149.64L74.00,149.44Z" fill="#dd33ff"/>
</g>
<g clip-path="url(#cB)">
<path d="M426.40,24.20 C426.60,27.42 427.25,37.53 427.60,43.50 C427.95,49.47 428.12,55.28 428.50,60.00 C428.88,64.72 429.33,67.88 429.90,71.80 C430.47,75.72 431.08,79.75 431.90,83.50 C432.72,87.25 433.50,91.03 434.80,94.30 C436.10,97.57 437.73,100.15 439.70,103.10 C441.67,106.05 444.15,109.38 446.60,112.00 C449.05,114.62 451.33,116.58 454.40,118.80 C457.47,121.02 461.37,123.32 465.00,125.30 C468.63,127.28 472.47,128.82 476.20,130.70 C479.93,132.58 483.67,134.50 487.40,136.60 C491.13,138.70 494.87,141.30 498.60,143.30 C502.33,145.30 507.07,147.43 509.80,148.60 C512.53,149.77 512.77,149.58 515.00,150.30 C517.23,151.02 519.97,152.30 523.20,152.90 C526.43,153.50 529.93,153.83 534.40,153.90 C538.87,153.97 545.08,153.50 550.00,153.30 C554.92,153.10 558.43,152.92 563.90,152.70 C569.37,152.48 577.55,152.38 582.80,152.00 C588.05,151.62 592.03,150.82 595.40,150.40 C598.77,149.98 600.90,149.50 603.00,149.50 C605.10,149.50 606.85,149.77 608.00,150.40 C609.15,151.03 609.53,151.87 609.90,153.30 C610.27,154.73 610.10,156.90 610.20,159.00 C610.30,161.10 610.45,164.75 610.50,165.90" fill="none" stroke="#000000" stroke-width="1.8" stroke-linejoin="round" stroke-linecap="round" />
<path d="M418.00,20.00 C418.33,24.33 419.25,36.83 420.00,46.00 C420.75,55.17 421.67,66.00 422.50,75.00 C423.33,84.00 424.08,93.33 425.00,100.00 C425.92,106.67 426.83,110.83 428.00,115.00 C429.17,119.17 430.17,121.73 432.00,125.00 C433.83,128.27 436.43,131.60 439.00,134.60 C441.57,137.60 444.37,140.43 447.40,143.00 C450.43,145.57 454.27,148.25 457.20,150.00 C460.13,151.75 459.53,152.63 465.00,153.50 C470.47,154.37 476.67,154.88 490.00,155.20 C503.33,155.52 534.17,155.33 545.00,155.40 C555.83,155.47 552.27,155.28 555.00,155.60 C557.73,155.92 559.92,156.32 561.40,157.30 C562.88,158.28 563.47,160.17 563.90,161.50 C564.33,162.83 563.98,164.67 564.00,165.30" fill="none" stroke="#bbbbbb" stroke-width="1.8" stroke-linejoin="round" stroke-linecap="round" />
<path d="M408.50,27.00 C408.63,29.17 408.73,31.17 409.30,40.00 C409.87,48.83 411.35,70.83 411.90,80.00 C412.45,89.17 412.12,89.17 412.60,95.00 C413.08,100.83 414.07,109.72 414.80,115.00 C415.53,120.28 416.27,123.07 417.00,126.70 C417.73,130.33 418.37,134.08 419.20,136.80 C420.03,139.52 420.95,141.17 422.00,143.00 C423.05,144.83 424.17,146.38 425.50,147.80 C426.83,149.22 427.75,150.43 430.00,151.50 C432.25,152.57 433.17,153.52 439.00,154.20 C444.83,154.88 454.83,155.22 465.00,155.60 C475.17,155.98 490.07,156.25 500.00,156.50 C509.93,156.75 520.27,156.52 524.60,157.10 C528.93,157.68 525.68,158.52 526.00,160.00 C526.32,161.48 526.42,165.00 526.50,166.00" fill="none" stroke="#11ffff" stroke-width="1.8" stroke-linejoin="round" stroke-linecap="round" />
<path d="M400.50,62.00 C400.72,65.00 401.38,73.67 401.80,80.00 C402.22,86.33 402.55,93.33 403.00,100.00 C403.45,106.67 404.12,115.00 404.50,120.00 C404.88,125.00 405.08,126.22 405.30,130.00 C405.52,133.78 405.23,139.43 405.80,142.70 C406.37,145.97 407.40,147.72 408.70,149.60 C410.00,151.48 411.55,152.93 413.60,154.00 C415.65,155.07 415.77,155.50 421.00,156.00 C426.23,156.50 433.83,156.75 445.00,157.00 C456.17,157.25 480.67,156.20 488.00,157.50 C495.33,158.80 488.83,163.58 489.00,164.80" fill="none" stroke="#1166c0" stroke-width="2.1" stroke-linejoin="round" stroke-linecap="round" />
<path d="M398.60,48.00 C398.77,53.33 399.27,69.67 399.60,80.00 C399.93,90.33 400.23,101.67 400.60,110.00 C400.97,118.33 401.48,124.67 401.80,130.00 C402.12,135.33 402.13,138.67 402.50,142.00 C402.87,145.33 403.25,147.92 404.00,150.00 C404.75,152.08 405.67,153.33 407.00,154.50 C408.33,155.67 409.83,156.45 412.00,157.00 C414.17,157.55 417.00,157.67 420.00,157.80 C423.00,157.93 424.78,157.80 430.00,157.80 C435.22,157.80 447.67,156.48 451.30,157.80 C454.93,159.12 451.72,164.38 451.80,165.70" fill="none" stroke="#dd33ff" stroke-width="2.1" stroke-linejoin="round" stroke-linecap="round" />
<path d="M421.70,30.10 C422.32,32.20 424.42,37.95 425.40,42.70 C426.38,47.45 427.05,52.38 427.60,58.60 C428.15,64.82 428.28,74.02 428.70,80.00 C429.12,85.98 429.20,88.32 430.10,94.50 C431.00,100.68 432.85,111.93 434.10,117.10 C435.35,122.27 436.43,122.58 437.60,125.50 C438.77,128.42 439.70,132.15 441.10,134.60 C442.50,137.05 444.37,138.57 446.00,140.20 C447.63,141.83 449.03,143.12 450.90,144.40 C452.77,145.68 455.22,146.85 457.20,147.90 C459.18,148.95 460.50,149.93 462.80,150.70 C465.10,151.47 468.13,151.95 471.00,152.50 C473.87,153.05 476.85,153.58 480.00,154.00 C483.15,154.42 486.57,154.37 489.90,155.00 C493.23,155.63 493.98,156.88 500.00,157.80 C506.02,158.72 518.50,159.83 526.00,160.50 C533.50,161.17 538.47,161.53 545.00,161.80 C551.53,162.07 558.90,162.25 565.20,162.10 C571.50,161.95 577.77,161.38 582.80,160.90 C587.83,160.42 591.83,159.90 595.40,159.20 C598.97,158.50 601.90,157.47 604.20,156.70 C606.50,155.93 607.93,154.95 609.20,154.60 C610.47,154.25 611.37,154.60 611.80,154.60" fill="none" stroke="#000000" stroke-width="1.4" stroke-linejoin="round" stroke-linecap="round" />
<path d="M421.80,27.63L422.68,29.55L423.64,30.43L422.68,31.31L421.80,33.23L420.92,31.31L419.96,30.43L420.92,29.55ZM426.50,46.16L427.38,48.08L428.34,48.96L427.38,49.84L426.50,51.76L425.62,49.84L424.66,48.96L425.62,48.08ZM431.20,98.79L432.08,100.71L433.04,101.59L432.08,102.47L431.20,104.39L430.32,102.47L429.36,101.59L430.32,100.71ZM435.90,119.38L436.78,121.30L437.74,122.18L436.78,123.06L435.90,124.98L435.02,123.06L434.06,122.18L435.02,121.30ZM440.60,130.83L441.48,132.75L442.44,133.63L441.48,134.51L440.60,136.43L439.72,134.51L438.76,133.63L439.72,132.75ZM445.30,136.72L446.18,138.64L447.14,139.52L446.18,140.40L445.30,142.32L444.42,140.40L443.46,139.52L444.42,138.64ZM450.00,140.95L450.88,142.87L451.84,143.75L450.88,144.63L450.00,146.55L449.12,144.63L448.16,143.75L449.12,142.87ZM454.70,143.80L455.58,145.72L456.54,146.60L455.58,147.48L454.70,149.40L453.82,147.48L452.86,146.60L453.82,145.72ZM459.40,146.34L460.28,148.26L461.24,149.14L460.28,150.02L459.40,151.94L458.52,150.02L457.56,149.14L458.52,148.26ZM464.10,148.29L464.98,150.21L465.94,151.09L464.98,151.97L464.10,153.89L463.22,151.97L462.26,151.09L463.22,150.21ZM468.80,149.29L469.68,151.21L470.64,152.09L469.68,152.97L468.80,154.89L467.92,152.97L466.96,152.09L467.92,151.21ZM473.50,150.17L474.38,152.09L475.34,152.97L474.38,153.85L473.50,155.77L472.62,153.85L471.66,152.97L472.62,152.09ZM478.20,150.95L479.08,152.87L480.04,153.75L479.08,154.63L478.20,156.55L477.32,154.63L476.36,153.75L477.32,152.87ZM482.90,151.48L483.78,153.40L484.74,154.28L483.78,155.16L482.90,157.08L482.02,155.16L481.06,154.28L482.02,153.40ZM487.60,151.86L488.48,153.78L489.44,154.66L488.48,155.54L487.60,157.46L486.72,155.54L485.76,154.66L486.72,153.78ZM492.30,152.87L493.18,154.79L494.14,155.67L493.18,156.55L492.30,158.47L491.42,156.55L490.46,155.67L491.42,154.79ZM497.00,154.43L497.88,156.35L498.84,157.23L497.88,158.11L497.00,160.03L496.12,158.11L495.16,157.23L496.12,156.35ZM501.70,155.24L502.58,157.16L503.54,158.04L502.58,158.92L501.70,160.84L500.82,158.92L499.86,158.04L500.82,157.16ZM506.40,155.81L507.28,157.73L508.24,158.61L507.28,159.49L506.40,161.41L505.52,159.49L504.56,158.61L505.52,157.73ZM511.10,156.31L511.98,158.23L512.94,159.11L511.98,159.99L511.10,161.91L510.22,159.99L509.26,159.11L510.22,158.23ZM515.80,156.77L516.68,158.69L517.64,159.57L516.68,160.45L515.80,162.37L514.92,160.45L513.96,159.57L514.92,158.69ZM520.50,157.21L521.38,159.13L522.34,160.01L521.38,160.89L520.50,162.81L519.62,160.89L518.66,160.01L519.62,159.13ZM525.20,157.63L526.08,159.55L527.04,160.43L526.08,161.31L525.20,163.23L524.32,161.31L523.36,160.43L524.32,159.55ZM529.90,158.04L530.78,159.96L531.74,160.84L530.78,161.72L529.90,163.64L529.02,161.72L528.06,160.84L529.02,159.96ZM534.60,158.41L535.48,160.33L536.44,161.21L535.48,162.09L534.60,164.01L533.72,162.09L532.76,161.21L533.72,160.33ZM539.30,158.72L540.18,160.64L541.14,161.52L540.18,162.40L539.30,164.32L538.42,162.40L537.46,161.52L538.42,160.64Z" fill="#000000" stroke="#000000" stroke-width="0.3" stroke-linejoin="round" />
<path d="M544.00,158.08L545.16,160.60L546.42,161.76L545.16,162.91L544.00,165.43L542.85,162.91L541.59,161.76L542.85,160.60ZM548.70,158.26L549.86,160.78L551.12,161.94L549.86,163.09L548.70,165.61L547.55,163.09L546.29,161.94L547.55,160.78ZM553.40,158.40L554.56,160.92L555.82,162.07L554.56,163.23L553.40,165.75L552.25,163.23L550.99,162.07L552.25,160.92ZM558.10,158.47L559.26,160.99L560.52,162.14L559.26,163.30L558.10,165.82L556.95,163.30L555.69,162.14L556.95,160.99ZM562.80,158.47L563.96,160.99L565.22,162.14L563.96,163.30L562.80,165.82L561.65,163.30L560.39,162.14L561.65,160.99ZM567.50,158.35L568.66,160.87L569.92,162.03L568.66,163.18L567.50,165.70L566.35,163.18L565.09,162.03L566.35,160.87ZM572.20,158.11L573.36,160.63L574.62,161.78L573.36,162.94L572.20,165.46L571.05,162.94L569.79,161.78L571.05,160.63ZM576.90,157.76L578.06,160.28L579.32,161.43L578.06,162.59L576.90,165.11L575.75,162.59L574.49,161.43L575.75,160.28ZM581.60,157.34L582.76,159.86L584.02,161.01L582.76,162.17L581.60,164.69L580.45,162.17L579.19,161.01L580.45,159.86ZM586.30,156.86L587.46,159.38L588.72,160.54L587.46,161.69L586.30,164.21L585.15,161.69L583.89,160.54L585.15,159.38ZM591.00,156.27L592.16,158.79L593.42,159.94L592.16,161.10L591.00,163.62L589.85,161.10L588.59,159.94L589.85,158.79ZM595.70,155.46L596.86,157.98L598.12,159.14L596.86,160.29L595.70,162.81L594.55,160.29L593.29,159.14L594.55,157.98ZM600.40,154.26L601.56,156.78L602.82,157.94L601.56,159.09L600.40,161.61L599.25,159.09L597.99,157.94L599.25,156.78ZM605.10,152.70L606.26,155.22L607.52,156.37L606.26,157.53L605.10,160.05L603.95,157.53L602.69,156.37L603.95,155.22ZM609.80,150.80L610.96,153.32L612.22,154.48L610.96,155.63L609.80,158.15L608.65,155.63L607.39,154.48L608.65,153.32Z" fill="#000000" stroke="#000000" stroke-width="0.3" stroke-linejoin="round" />
<path d="M421.70,26.10L423.00,28.70L425.50,28.90L425.50,31.30L423.00,31.50L421.70,33.30L420.40,31.50L417.90,31.30L417.90,28.90L420.40,28.70Z" fill="#000000"/>
<path d="M417.50,18.40 C417.83,22.00 418.83,31.40 419.50,40.00 C420.17,48.60 420.92,61.67 421.50,70.00 C422.08,78.33 422.42,84.17 423.00,90.00 C423.58,95.83 424.32,100.83 425.00,105.00 C425.68,109.17 426.40,110.77 427.10,115.00 C427.80,119.23 428.55,126.48 429.20,130.40 C429.85,134.32 430.30,136.17 431.00,138.50 C431.70,140.83 432.18,142.48 433.40,144.40 C434.62,146.32 436.67,148.48 438.30,150.00 C439.93,151.52 441.22,152.50 443.20,153.50 C445.18,154.50 447.40,155.17 450.20,156.00 C453.00,156.83 455.87,157.75 460.00,158.50 C464.13,159.25 468.33,160.00 475.00,160.50 C481.67,161.00 485.40,161.28 500.00,161.50 C514.60,161.72 552.17,161.75 562.60,161.80" fill="none" stroke="#bbbbbb" stroke-width="1.4" stroke-linejoin="round" stroke-linecap="round" />
<path d="M417.60,15.95L418.70,18.35L419.90,19.45L418.70,20.55L417.60,22.95L416.50,20.55L415.30,19.45L416.50,18.35ZM422.30,78.13L423.40,80.53L424.60,81.63L423.40,82.73L422.30,85.13L421.20,82.73L420.00,81.63L421.20,80.53ZM427.00,110.91L428.10,113.31L429.30,114.41L428.10,115.51L427.00,117.91L425.90,115.51L424.70,114.41L425.90,113.31ZM431.70,137.25L432.80,139.65L434.00,140.75L432.80,141.85L431.70,144.25L430.60,141.85L429.40,140.75L430.60,139.65ZM436.40,144.62L437.50,147.02L438.70,148.12L437.50,149.22L436.40,151.62L435.30,149.22L434.10,148.12L435.30,147.02ZM441.10,148.78L442.20,151.18L443.40,152.28L442.20,153.38L441.10,155.78L440.00,153.38L438.80,152.28L440.00,151.18ZM445.80,151.10L446.90,153.50L448.10,154.60L446.90,155.70L445.80,158.10L444.70,155.70L443.50,154.60L444.70,153.50ZM450.50,152.59L451.60,154.99L452.80,156.09L451.60,157.19L450.50,159.59L449.40,157.19L448.20,156.09L449.40,154.99ZM455.20,153.94L456.30,156.34L457.50,157.44L456.30,158.54L455.20,160.94L454.10,158.54L452.90,157.44L454.10,156.34ZM459.90,154.98L461.00,157.38L462.20,158.48L461.00,159.58L459.90,161.98L458.80,159.58L457.60,158.48L458.80,157.38ZM464.60,155.80L465.70,158.20L466.90,159.30L465.70,160.40L464.60,162.80L463.50,160.40L462.30,159.30L463.50,158.20ZM469.30,156.45L470.40,158.85L471.60,159.95L470.40,161.05L469.30,163.45L468.20,161.05L467.00,159.95L468.20,158.85ZM474.00,156.92L475.10,159.32L476.30,160.42L475.10,161.52L474.00,163.92L472.90,161.52L471.70,160.42L472.90,159.32ZM478.70,157.27L479.80,159.67L481.00,160.77L479.80,161.87L478.70,164.27L477.60,161.87L476.40,160.77L477.60,159.67ZM483.40,157.55L484.50,159.95L485.70,161.05L484.50,162.15L483.40,164.55L482.30,162.15L481.10,161.05L482.30,159.95ZM488.10,157.74L489.20,160.14L490.40,161.24L489.20,162.34L488.10,164.74L487.00,162.34L485.80,161.24L487.00,160.14ZM492.80,157.87L493.90,160.27L495.10,161.37L493.90,162.47L492.80,164.87L491.70,162.47L490.50,161.37L491.70,160.27ZM497.50,157.96L498.60,160.36L499.80,161.46L498.60,162.56L497.50,164.96L496.40,162.56L495.20,161.46L496.40,160.36ZM502.20,158.03L503.30,160.43L504.50,161.53L503.30,162.63L502.20,165.03L501.10,162.63L499.90,161.53L501.10,160.43ZM506.90,158.08L508.00,160.48L509.20,161.58L508.00,162.68L506.90,165.08L505.80,162.68L504.60,161.58L505.80,160.48ZM511.60,158.11L512.70,160.51L513.90,161.61L512.70,162.71L511.60,165.11L510.50,162.71L509.30,161.61L510.50,160.51ZM516.30,158.14L517.40,160.54L518.60,161.64L517.40,162.74L516.30,165.14L515.20,162.74L514.00,161.64L515.20,160.54ZM521.00,158.17L522.10,160.57L523.30,161.67L522.10,162.77L521.00,165.17L519.90,162.77L518.70,161.67L519.90,160.57ZM525.70,158.19L526.80,160.59L528.00,161.69L526.80,162.79L525.70,165.19L524.60,162.79L523.40,161.69L524.60,160.59ZM530.40,158.20L531.50,160.60L532.70,161.70L531.50,162.80L530.40,165.20L529.30,162.80L528.10,161.70L529.30,160.60ZM535.10,158.22L536.20,160.62L537.40,161.72L536.20,162.82L535.10,165.22L534.00,162.82L532.80,161.72L534.00,160.62ZM539.80,158.23L540.90,160.63L542.10,161.73L540.90,162.83L539.80,165.23L538.70,162.83L537.50,161.73L538.70,160.63ZM544.50,158.25L545.60,160.65L546.80,161.75L545.60,162.85L544.50,165.25L543.40,162.85L542.20,161.75L543.40,160.65ZM549.20,158.26L550.30,160.66L551.50,161.76L550.30,162.86L549.20,165.26L548.10,162.86L546.90,161.76L548.10,160.66ZM553.90,158.27L555.00,160.67L556.20,161.77L555.00,162.87L553.90,165.27L552.80,162.87L551.60,161.77L552.80,160.67ZM558.60,158.28L559.70,160.68L560.90,161.78L559.70,162.88L558.60,165.28L557.50,162.88L556.30,161.78L557.50,160.68Z" fill="#bbbbbb" stroke="#bbbbbb" stroke-width="0.3" stroke-linejoin="round" />
<path d="M417.50,14.40L418.80,17.00L421.30,17.20L421.30,19.60L418.80,19.80L417.50,21.60L416.20,19.80L413.70,19.60L413.70,17.20L416.20,17.00Z" fill="#bbbbbb"/>
<path d="M408.20,25.10 C408.37,28.42 408.73,38.45 409.20,45.00 C409.67,51.55 410.45,56.07 411.00,64.40 C411.55,72.73 412.00,86.57 412.50,95.00 C413.00,103.43 413.58,108.92 414.00,115.00 C414.42,121.08 414.42,127.30 415.00,131.50 C415.58,135.70 416.80,137.45 417.50,140.20 C418.20,142.95 418.73,146.13 419.20,148.00 C419.67,149.87 419.50,150.32 420.30,151.40 C421.10,152.48 422.38,153.48 424.00,154.50 C425.62,155.52 427.33,156.67 430.00,157.50 C432.67,158.33 435.00,159.00 440.00,159.50 C445.00,160.00 445.67,160.25 460.00,160.50 C474.33,160.75 515.00,160.92 526.00,161.00" fill="none" stroke="#11ffff" stroke-width="1.4" stroke-linejoin="round" stroke-linecap="round" />
<path d="M408.30,23.78L409.40,26.18L410.60,27.28L409.40,28.38L408.30,30.78L407.20,28.38L406.00,27.28L407.20,26.18ZM413.00,98.84L414.10,101.24L415.30,102.34L414.10,103.44L413.00,105.84L411.90,103.44L410.70,102.34L411.90,101.24ZM417.70,137.52L418.80,139.92L420.00,141.02L418.80,142.12L417.70,144.52L416.60,142.12L415.40,141.02L416.60,139.92ZM422.40,149.91L423.50,152.31L424.70,153.41L423.50,154.51L422.40,156.91L421.30,154.51L420.10,153.41L421.30,152.31ZM427.10,152.83L428.20,155.23L429.40,156.33L428.20,157.43L427.10,159.83L426.00,157.43L424.80,156.33L426.00,155.23ZM431.80,154.54L432.90,156.94L434.10,158.04L432.90,159.14L431.80,161.54L430.70,159.14L429.50,158.04L430.70,156.94ZM436.50,155.56L437.60,157.96L438.80,159.06L437.60,160.16L436.50,162.56L435.40,160.16L434.20,159.06L435.40,157.96ZM441.20,156.12L442.30,158.52L443.50,159.62L442.30,160.72L441.20,163.12L440.10,160.72L438.90,159.62L440.10,158.52ZM445.90,156.56L447.00,158.96L448.20,160.06L447.00,161.16L445.90,163.56L444.80,161.16L443.60,160.06L444.80,158.96ZM450.60,156.78L451.70,159.18L452.90,160.28L451.70,161.38L450.60,163.78L449.50,161.38L448.30,160.28L449.50,159.18ZM455.30,156.91L456.40,159.31L457.60,160.41L456.40,161.51L455.30,163.91L454.20,161.51L453.00,160.41L454.20,159.31ZM460.00,157.00L461.10,159.40L462.30,160.50L461.10,161.60L460.00,164.00L458.90,161.60L457.70,160.50L458.90,159.40ZM464.70,157.07L465.80,159.47L467.00,160.57L465.80,161.67L464.70,164.07L463.60,161.67L462.40,160.57L463.60,159.47ZM469.40,157.12L470.50,159.52L471.70,160.62L470.50,161.72L469.40,164.12L468.30,161.72L467.10,160.62L468.30,159.52ZM474.10,157.17L475.20,159.57L476.40,160.67L475.20,161.77L474.10,164.17L473.00,161.77L471.80,160.67L473.00,159.57ZM478.80,157.20L479.90,159.60L481.10,160.70L479.90,161.80L478.80,164.20L477.70,161.80L476.50,160.70L477.70,159.60ZM483.50,157.24L484.60,159.64L485.80,160.74L484.60,161.84L483.50,164.24L482.40,161.84L481.20,160.74L482.40,159.64ZM488.20,157.27L489.30,159.67L490.50,160.77L489.30,161.87L488.20,164.27L487.10,161.87L485.90,160.77L487.10,159.67ZM492.90,157.30L494.00,159.70L495.20,160.80L494.00,161.90L492.90,164.30L491.80,161.90L490.60,160.80L491.80,159.70ZM497.60,157.33L498.70,159.73L499.90,160.83L498.70,161.93L497.60,164.33L496.50,161.93L495.30,160.83L496.50,159.73ZM502.30,157.36L503.40,159.76L504.60,160.86L503.40,161.96L502.30,164.36L501.20,161.96L500.00,160.86L501.20,159.76ZM507.00,157.39L508.10,159.79L509.30,160.89L508.10,161.99L507.00,164.39L505.90,161.99L504.70,160.89L505.90,159.79ZM511.70,157.41L512.80,159.81L514.00,160.91L512.80,162.01L511.70,164.41L510.60,162.01L509.40,160.91L510.60,159.81ZM516.40,157.44L517.50,159.84L518.70,160.94L517.50,162.04L516.40,164.44L515.30,162.04L514.10,160.94L515.30,159.84ZM521.10,157.47L522.20,159.87L523.40,160.97L522.20,162.07L521.10,164.47L520.00,162.07L518.80,160.97L520.00,159.87ZM525.80,157.50L526.90,159.90L528.10,161.00L526.90,162.10L525.80,164.50L524.70,162.10L523.50,161.00L524.70,159.90Z" fill="#11ffff" stroke="#11ffff" stroke-width="0.3" stroke-linejoin="round" />
<path d="M408.20,21.10L409.50,23.70L412.00,23.90L412.00,26.30L409.50,26.50L408.20,28.30L406.90,26.50L404.40,26.30L404.40,23.90L406.90,23.70Z" fill="#11ffff"/>
<path d="M400.00,60.00 C400.25,63.33 401.03,73.33 401.50,80.00 C401.97,86.67 402.38,93.33 402.80,100.00 C403.22,106.67 403.67,115.00 404.00,120.00 C404.33,125.00 404.58,126.33 404.80,130.00 C405.02,133.67 404.85,138.75 405.30,142.00 C405.75,145.25 406.55,147.50 407.50,149.50 C408.45,151.50 409.58,152.62 411.00,154.00 C412.42,155.38 413.67,156.80 416.00,157.80 C418.33,158.80 421.00,159.38 425.00,160.00 C429.00,160.62 429.40,161.13 440.00,161.50 C450.60,161.87 480.43,161.45 488.60,162.20 C496.77,162.95 488.93,165.37 489.00,166.00" fill="none" stroke="#1166c0" stroke-width="1.4" stroke-linejoin="round" stroke-linecap="round" />
<path d="M400.10,57.82L401.20,60.22L402.40,61.32L401.20,62.42L400.10,64.82L399.00,62.42L397.80,61.32L399.00,60.22ZM404.80,126.50L405.90,128.90L407.10,130.00L405.90,131.10L404.80,133.50L403.70,131.10L402.50,130.00L403.70,128.90ZM409.50,148.97L410.60,151.37L411.80,152.47L410.60,153.57L409.50,155.97L408.40,153.57L407.20,152.47L408.40,151.37ZM414.20,153.33L415.30,155.73L416.50,156.83L415.30,157.93L414.20,160.33L413.10,157.93L411.90,156.83L413.10,155.73ZM418.90,155.29L420.00,157.69L421.20,158.79L420.00,159.89L418.90,162.29L417.80,159.89L416.60,158.79L417.80,157.69ZM423.60,156.28L424.70,158.68L425.90,159.78L424.70,160.88L423.60,163.28L422.50,160.88L421.30,159.78L422.50,158.68ZM428.30,157.08L429.40,159.48L430.60,160.58L429.40,161.68L428.30,164.08L427.20,161.68L426.00,160.58L427.20,159.48ZM433.00,157.64L434.10,160.04L435.30,161.14L434.10,162.24L433.00,164.64L431.90,162.24L430.70,161.14L431.90,160.04ZM437.70,157.91L438.80,160.31L440.00,161.41L438.80,162.51L437.70,164.91L436.60,162.51L435.40,161.41L436.60,160.31ZM442.40,158.06L443.50,160.46L444.70,161.56L443.50,162.66L442.40,165.06L441.30,162.66L440.10,161.56L441.30,160.46ZM447.10,158.13L448.20,160.53L449.40,161.63L448.20,162.73L447.10,165.13L446.00,162.73L444.80,161.63L446.00,160.53ZM451.80,158.16L452.90,160.56L454.10,161.66L452.90,162.76L451.80,165.16L450.70,162.76L449.50,161.66L450.70,160.56ZM456.50,158.18L457.60,160.58L458.80,161.68L457.60,162.78L456.50,165.18L455.40,162.78L454.20,161.68L455.40,160.58ZM461.20,158.19L462.30,160.59L463.50,161.69L462.30,162.79L461.20,165.19L460.10,162.79L458.90,161.69L460.10,160.59ZM465.90,158.21L467.00,160.61L468.20,161.71L467.00,162.81L465.90,165.21L464.80,162.81L463.60,161.71L464.80,160.61ZM470.60,158.23L471.70,160.63L472.90,161.73L471.70,162.83L470.60,165.23L469.50,162.83L468.30,161.73L469.50,160.63ZM475.30,158.27L476.40,160.67L477.60,161.77L476.40,162.87L475.30,165.27L474.20,162.87L473.00,161.77L474.20,160.67ZM480.00,158.35L481.10,160.75L482.30,161.85L481.10,162.95L480.00,165.35L478.90,162.95L477.70,161.85L478.90,160.75ZM484.70,158.48L485.80,160.88L487.00,161.98L485.80,163.08L484.70,165.48L483.60,163.08L482.40,161.98L483.60,160.88Z" fill="#1166c0" stroke="#1166c0" stroke-width="0.3" stroke-linejoin="round" />
<path d="M400.00,56.00L401.30,58.60L403.80,58.80L403.80,61.20L401.30,61.40L400.00,63.20L398.70,61.40L396.20,61.20L396.20,58.80L398.70,58.60Z" fill="#1166c0"/>
<path d="M398.40,46.40 C398.55,50.33 399.00,61.90 399.30,70.00 C399.60,78.10 399.88,86.67 400.20,95.00 C400.52,103.33 400.92,114.17 401.20,120.00 C401.48,125.83 401.62,125.88 401.90,130.00 C402.18,134.12 402.42,140.95 402.90,144.70 C403.38,148.45 403.67,150.22 404.80,152.50 C405.93,154.78 408.00,157.07 409.70,158.40 C411.40,159.73 413.12,160.00 415.00,160.50 C416.88,161.00 416.83,161.18 421.00,161.40 C425.17,161.62 434.87,161.70 440.00,161.80 C445.13,161.90 449.77,161.35 451.80,162.00 C453.83,162.65 452.13,165.08 452.20,165.70" fill="none" stroke="#dd33ff" stroke-width="1.4" stroke-linejoin="round" stroke-linecap="round" />
<path d="M398.50,45.51L399.60,47.91L400.80,49.01L399.60,50.11L398.50,52.51L397.40,50.11L396.20,49.01L397.40,47.91ZM403.20,143.40L404.30,145.80L405.50,146.90L404.30,148.00L403.20,150.40L402.10,148.00L400.90,146.90L402.10,145.80ZM407.90,153.26L409.00,155.66L410.20,156.76L409.00,157.86L407.90,160.26L406.80,157.86L405.60,156.76L406.80,155.66ZM412.60,156.36L413.70,158.76L414.90,159.86L413.70,160.96L412.60,163.36L411.50,160.96L410.30,159.86L411.50,158.76ZM417.30,157.58L418.40,159.98L419.60,161.08L418.40,162.18L417.30,164.58L416.20,162.18L415.00,161.08L416.20,159.98ZM422.00,157.94L423.10,160.34L424.30,161.44L423.10,162.54L422.00,164.94L420.90,162.54L419.70,161.44L420.90,160.34ZM426.70,158.08L427.80,160.48L429.00,161.58L427.80,162.68L426.70,165.08L425.60,162.68L424.40,161.58L425.60,160.48ZM431.40,158.16L432.50,160.56L433.70,161.66L432.50,162.76L431.40,165.16L430.30,162.76L429.10,161.66L430.30,160.56ZM436.10,158.24L437.20,160.64L438.40,161.74L437.20,162.84L436.10,165.24L435.00,162.84L433.80,161.74L435.00,160.64ZM440.80,158.31L441.90,160.71L443.10,161.81L441.90,162.91L440.80,165.31L439.70,162.91L438.50,161.81L439.70,160.71ZM445.50,158.23L446.60,160.63L447.80,161.73L446.60,162.83L445.50,165.23L444.40,162.83L443.20,161.73L444.40,160.63ZM450.20,158.23L451.30,160.63L452.50,161.73L451.30,162.83L450.20,165.23L449.10,162.83L447.90,161.73L449.10,160.63Z" fill="#dd33ff" stroke="#dd33ff" stroke-width="0.3" stroke-linejoin="round" />
<path d="M398.40,42.40L399.70,45.00L402.20,45.20L402.20,47.60L399.70,47.80L398.40,49.60L397.10,47.80L394.60,47.60L394.60,45.20L397.10,45.00Z" fill="#dd33ff"/>
<path d="M396.50,59.50H403.50M396.50,63.10H403.50M400.00,59.50V63.10" stroke="#1166c0" stroke-width="1.2" fill="none"/>
<path d="M400.10,67.80H404.90M400.10,68.00H404.90M402.50,67.80V68.00" stroke="#1166c0" stroke-width="1.2" fill="none"/>
<path d="M425.80,39.30L427.10,41.90L429.60,42.10L429.60,44.50L427.10,44.70L425.80,46.50L424.50,44.70L422.00,44.50L422.00,42.10L424.50,41.90Z" fill="#000000"/>
<path d="M402.00,72.10L403.10,74.50L404.30,75.60L403.10,76.70L402.00,79.10L400.90,76.70L399.70,75.60L400.90,74.50Z" fill="#1166c0" stroke="#1166c0" stroke-width="0.3" stroke-linejoin="round" />
<path d="M408.10,60.10H414.50M408.10,67.90H414.50M411.30,60.10V67.90" stroke="#11ffff" stroke-width="1.2" fill="none"/>
<path d="M411.20,60.30L412.30,62.70L413.50,63.80L412.30,64.90L411.20,67.30L410.10,64.90L408.90,63.80L410.10,62.70Z" fill="#11ffff" stroke="#11ffff" stroke-width="0.3" stroke-linejoin="round" />
<path d="M416.50,44.40H422.50M416.50,49.60H422.50M419.50,44.40V49.60" stroke="#bbbbbb" stroke-width="1.2" fill="none"/>
</g>
<path d="M241.10,241.60 L242.93,241.28 L244.72,240.99 L246.45,240.72 L248.13,240.48 L249.76,240.25 L251.34,240.03 L252.86,239.82 L254.33,239.62 L255.74,239.41 L257.10,239.20 L258.39,239.00 L259.61,238.83 L260.76,238.68 L261.85,238.54 L262.90,238.40 L263.91,238.24 L264.88,238.07 L265.83,237.86 L266.77,237.61 L267.70,237.30 L268.61,236.95 L269.49,236.58 L270.34,236.17 L271.15,235.74 L271.95,235.28 L272.73,234.79 L273.48,234.27 L274.23,233.71 L274.97,233.12 L275.70,232.50 L276.43,231.83 L277.14,231.10 L277.85,230.32 L278.54,229.51 L279.21,228.67 L279.87,227.82 L280.51,226.96 L281.13,226.12 L281.73,225.29 L282.30,224.50 L282.86,223.70 L283.42,222.85 L283.97,221.98 L284.50,221.10 L285.01,220.25 L285.49,219.44 L285.92,218.68 L286.31,218.01 L286.64,217.44 L286.90,217.00" fill="none" stroke="#000000" stroke-width="1.8" stroke-linejoin="round" stroke-linecap="round"/>
<path d="M89.20,288.50 L90.66,288.47 L92.59,288.43 L94.89,288.39 L97.46,288.34 L100.21,288.28 L103.03,288.22 L105.84,288.15 L108.53,288.07 L111.02,287.99 L113.20,287.90 L115.14,287.80 L116.98,287.70 L118.72,287.60 L120.38,287.48 L121.97,287.36 L123.49,287.23 L124.95,287.09 L126.37,286.94 L127.75,286.78 L129.10,286.60 L130.40,286.40 L131.61,286.18 L132.77,285.95 L133.86,285.70 L134.92,285.44 L135.94,285.18 L136.95,284.92 L137.96,284.67 L138.97,284.42 L140.00,284.20 L141.05,283.99 L142.09,283.80 L143.14,283.61 L144.17,283.43 L145.19,283.26 L146.20,283.08 L147.19,282.90 L148.16,282.71 L149.09,282.51 L150.00,282.30 L150.87,282.08 L151.69,281.86 L152.48,281.64 L153.25,281.41 L154.00,281.17 L154.74,280.92 L155.49,280.66 L156.24,280.39 L157.01,280.11 L157.80,279.80 L158.64,279.47 L159.52,279.12 L160.43,278.76 L161.36,278.38 L162.28,277.99 L163.17,277.59 L164.03,277.19 L164.83,276.79 L165.56,276.39 L166.20,276.00 L166.74,275.62 L167.19,275.24 L167.57,274.86 L167.90,274.48 L168.18,274.09 L168.44,273.71 L168.70,273.32 L168.97,272.92 L169.26,272.51 L169.60,272.10 L169.96,271.67 L170.32,271.24 L170.67,270.79 L171.03,270.34 L171.39,269.88 L171.77,269.42 L172.17,268.96 L172.58,268.50 L173.03,268.05 L173.50,267.60 L173.99,267.16 L174.48,266.71 L174.97,266.27 L175.49,265.83 L176.03,265.39 L176.61,264.96 L177.22,264.52 L177.89,264.08 L178.61,263.64 L179.40,263.20 L180.26,262.77 L181.18,262.35 L182.16,261.94 L183.19,261.53 L184.26,261.12 L185.36,260.70 L186.50,260.26 L187.65,259.80 L188.82,259.32 L190.00,258.80 L191.19,258.25 L192.38,257.67 L193.60,257.06 L194.84,256.43 L196.11,255.79 L197.40,255.13 L198.74,254.47 L200.11,253.81 L201.53,253.15 L203.00,252.50 L204.51,251.84 L206.06,251.16 L207.65,250.47 L209.27,249.77 L210.94,249.07 L212.64,248.39 L214.39,247.72 L216.18,247.08 L218.02,246.47 L219.90,245.90 L221.87,245.37 L223.95,244.86 L226.11,244.38 L228.32,243.92 L230.56,243.49 L232.79,243.07 L234.99,242.68 L237.12,242.30 L239.17,241.94" fill="none" stroke="#bbbbbb" stroke-width="2.3" stroke-linejoin="round" stroke-linecap="round"/>
<path d="M89.20,288.50 L90.66,288.47 L92.59,288.43 L94.89,288.39 L97.46,288.34 L100.21,288.28 L103.03,288.22 L105.84,288.15 L108.53,288.07 L111.02,287.99 L113.20,287.90 L115.14,287.80 L116.98,287.70 L118.72,287.60 L120.38,287.48 L121.97,287.36 L123.49,287.23 L124.95,287.09 L126.37,286.94 L127.75,286.78 L129.10,286.60 L130.40,286.40 L131.61,286.18 L132.77,285.95 L133.86,285.70 L134.92,285.44 L135.94,285.18 L136.95,284.92 L137.96,284.67 L138.97,284.42 L140.00,284.20 L141.05,283.99 L142.09,283.80 L143.14,283.61 L144.17,283.43 L145.19,283.26 L146.20,283.08 L147.19,282.90 L148.16,282.71 L149.09,282.51 L150.00,282.30 L150.87,282.08 L151.69,281.86 L152.48,281.64 L153.25,281.41 L154.00,281.17 L154.74,280.92 L155.49,280.66 L156.24,280.39 L157.01,280.11 L157.80,279.80 L158.64,279.47 L159.52,279.12 L160.43,278.76 L161.36,278.38 L162.28,277.99 L163.17,277.59 L164.03,277.19 L164.83,276.79 L165.56,276.39 L166.20,276.00 L166.74,275.62 L167.19,275.24 L167.57,274.86 L167.90,274.48 L168.18,274.09 L168.44,273.71 L168.70,273.32 L168.97,272.92 L169.26,272.51 L169.60,272.10 L169.96,271.67 L170.32,271.24 L170.67,270.79 L171.03,270.34 L171.39,269.88 L171.77,269.42 L172.17,268.96 L172.58,268.50 L173.03,268.05 L173.50,267.60 L173.99,267.16 L174.48,266.71 L174.97,266.27 L175.49,265.83 L176.03,265.39 L176.61,264.96 L177.22,264.52 L177.89,264.08 L178.61,263.64 L179.40,263.20 L180.26,262.77 L181.18,262.35 L182.16,261.94 L183.19,261.53 L184.26,261.12 L185.36,260.70 L186.50,260.26 L187.65,259.80 L188.82,259.32 L190.00,258.80 L191.19,258.25 L192.38,257.67 L193.60,257.06 L194.84,256.43 L196.11,255.79 L197.40,255.13 L198.74,254.47 L200.11,253.81 L201.53,253.15 L203.00,252.50 L204.51,251.84 L206.06,251.16 L207.65,250.47 L209.27,249.77 L210.94,249.07 L212.64,248.39 L214.39,247.72 L216.18,247.08 L218.02,246.47 L219.90,245.90 L221.87,245.37 L223.95,244.86 L226.11,244.38 L228.32,243.92 L230.56,243.49 L232.79,243.07 L234.99,242.68 L237.12,242.30 L239.17,241.94" fill="none" stroke="#444" stroke-width="0.75" stroke-linejoin="round" stroke-linecap="round"/>
<path d="M89.20,288.50 L90.66,288.47 L92.59,288.43 L94.89,288.39 L97.46,288.34 L100.21,288.28 L103.03,288.22 L105.84,288.15 L108.53,288.07 L111.02,287.99 L113.20,287.90 L115.14,287.80 L116.98,287.70 L118.72,287.60 L120.38,287.48 L121.97,287.36 L123.49,287.23 L124.95,287.09 L126.37,286.94 L127.75,286.78 L129.10,286.60 L130.40,286.40 L131.61,286.18 L132.77,285.95 L133.86,285.70 L134.92,285.44 L135.94,285.18 L136.95,284.92 L137.96,284.67 L138.97,284.42 L140.00,284.20 L141.05,283.99 L142.09,283.80 L143.14,283.61 L144.17,283.43 L145.19,283.26 L146.20,283.08 L147.19,282.90 L148.16,282.71 L149.09,282.51 L150.00,282.30 L150.87,282.08 L151.69,281.86 L152.48,281.64 L153.25,281.41 L154.00,281.17 L154.74,280.92 L155.49,280.66 L156.24,280.39 L157.01,280.11 L157.80,279.80 L158.64,279.47 L159.52,279.12 L160.43,278.76 L161.36,278.38 L162.28,277.99 L163.17,277.59 L164.03,277.19 L164.83,276.79 L165.56,276.39 L166.20,276.00 L166.74,275.62 L167.19,275.24 L167.57,274.86 L167.90,274.48 L168.18,274.09 L168.44,273.71 L168.70,273.32 L168.97,272.92 L169.26,272.51 L169.60,272.10 L169.96,271.67 L170.32,271.24 L170.67,270.79 L171.03,270.34 L171.39,269.88 L171.77,269.42 L172.17,268.96 L172.58,268.50 L173.03,268.05 L173.50,267.60 L173.99,267.16 L174.48,266.71 L174.97,266.27 L175.49,265.83 L176.03,265.39 L176.61,264.96 L177.22,264.52 L177.89,264.08 L178.61,263.64 L179.40,263.20 L180.26,262.77 L181.18,262.35 L182.16,261.94 L183.19,261.53 L184.26,261.12 L185.36,260.70 L186.50,260.26 L187.65,259.80 L188.82,259.32 L190.00,258.80 L191.19,258.25 L192.38,257.67 L193.60,257.06 L194.84,256.43 L196.11,255.79 L197.40,255.13 L198.74,254.47 L200.11,253.81 L201.53,253.15 L203.00,252.50" fill="none" stroke="#11ffff" stroke-width="1.9" stroke-linejoin="round" stroke-linecap="round"/>
<path d="M129.10,286.60 L130.40,286.40 L131.61,286.18 L132.77,285.95 L133.86,285.70 L134.92,285.44 L135.94,285.18 L136.95,284.92 L137.96,284.67 L138.97,284.42 L140.00,284.20 L141.05,283.99 L142.09,283.80 L143.14,283.61 L144.17,283.43 L145.19,283.26 L146.20,283.08 L147.19,282.90 L148.16,282.71 L149.09,282.51 L150.00,282.30 L150.87,282.08 L151.69,281.86 L152.48,281.64 L153.25,281.41 L154.00,281.17 L154.74,280.92 L155.49,280.66 L156.24,280.39 L157.01,280.11 L157.80,279.80 L158.64,279.47 L159.52,279.12 L160.43,278.76 L161.36,278.38 L162.28,277.99 L163.17,277.59 L164.03,277.19 L164.83,276.79 L165.56,276.39" fill="none" stroke="#1166c0" stroke-width="1.9" stroke-linejoin="round" stroke-linecap="round"/>
<path d="M89.20,289.00 L90.66,288.97 L92.59,288.93 L94.89,288.89 L97.46,288.84 L100.21,288.78 L103.03,288.72 L105.84,288.65 L108.53,288.57 L111.02,288.49 L113.20,288.40 L115.14,288.30 L116.98,288.20 L118.72,288.10 L120.38,287.98 L121.97,287.86 L123.49,287.73 L124.95,287.59 L126.37,287.44 L127.75,287.28" fill="none" stroke="#dd33ff" stroke-width="2.0" stroke-linejoin="round" stroke-linecap="round"/>
<path d="M89.20,288.20 L90.66,288.17 L92.59,288.13 L94.89,288.09 L97.46,288.04 L100.21,287.98 L103.03,287.92 L105.84,287.85 L108.53,287.77 L111.02,287.69 L113.20,287.60 L115.14,287.50 L116.98,287.40 L118.72,287.30 L120.38,287.18 L121.97,287.06 L123.49,286.93 L124.95,286.79 L126.37,286.64 L127.75,286.48" fill="none" stroke="#1166c0" stroke-width="1.1" stroke-linejoin="round" stroke-linecap="round"/>
<path d="M89.20,287.60 L90.66,287.57 L92.59,287.53 L94.89,287.49 L97.46,287.44 L100.21,287.38 L103.03,287.32 L105.84,287.25 L108.53,287.17 L111.02,287.09 L113.20,287.00 L115.14,286.90 L116.98,286.80 L118.72,286.70 L120.38,286.58 L121.97,286.46 L123.49,286.33 L124.95,286.19 L126.37,286.04 L127.75,285.88" fill="none" stroke="#11ffff" stroke-width="0.6" stroke-linejoin="round" stroke-linecap="round"/>
<text x="68.00" y="219.60" font-size="12" text-anchor="start" fill="#000" >(c)</text>
<text x="86.60" y="220.30" font-size="12" text-anchor="start" fill="#000" font-style="italic">Q</text>
<circle cx="91.2" cy="208.8" r="0.8" fill="#000"/>
<text x="95.60" y="224.00" font-size="8.9" text-anchor="start" fill="#000" font-style="italic">hys,cha</text>
<text x="117.00" y="279.60" font-size="12" text-anchor="start" fill="#d935fa" >75</text>
<text x="141.60" y="269.50" font-size="12" text-anchor="start" fill="#1466c4" >125</text>
<text x="179.40" y="247.60" font-size="12" text-anchor="start" fill="#14eef8" >175</text>
<text x="219.00" y="234.00" font-size="12" text-anchor="start" fill="#808080" >225</text>
<text x="266.80" y="216.70" font-size="12" text-anchor="start" fill="#000" >full</text>
<path d="M434.60,212.10 C434.88,212.58 435.67,214.78 436.30,215.00 C436.93,215.22 436.65,213.80 438.40,213.40 C440.15,213.00 444.00,212.78 446.80,212.60 C449.60,212.42 453.00,212.20 455.20,212.30 C457.40,212.40 457.53,212.62 460.00,213.20 C462.47,213.78 466.83,214.28 470.00,215.80 C473.17,217.32 476.38,220.28 479.00,222.30 C481.62,224.32 483.47,225.65 485.70,227.90 C487.93,230.15 490.02,232.92 492.40,235.80 C494.78,238.68 497.73,242.67 500.00,245.20 C502.27,247.73 503.97,249.15 506.00,251.00 C508.03,252.85 509.87,254.72 512.20,256.30 C514.53,257.88 516.72,259.28 520.00,260.50 C523.28,261.72 527.25,263.13 531.90,263.60 C536.55,264.07 542.13,263.62 547.90,263.30 C553.67,262.98 558.97,262.08 566.50,261.70 C574.03,261.32 587.35,261.03 593.10,261.00 C598.85,260.97 599.02,261.00 601.00,261.50 C602.98,262.00 603.92,262.42 605.00,264.00 C606.08,265.58 606.83,268.37 607.50,271.00 C608.17,273.63 608.65,277.13 609.00,279.80 C609.35,282.47 609.50,285.80 609.60,287.00" fill="none" stroke="#000000" stroke-width="1.8" stroke-linejoin="round" stroke-linecap="round" />
<path d="M434.20,227.90 C435.32,228.57 438.28,228.22 440.90,231.90 C443.52,235.58 446.58,245.42 449.90,250.00 C453.22,254.58 456.88,256.40 460.80,259.40 C464.72,262.40 469.48,266.13 473.40,268.00 C477.32,269.87 480.70,270.10 484.30,270.60 C487.90,271.10 490.72,271.02 495.00,271.00 C499.28,270.98 504.73,270.72 510.00,270.50 C515.27,270.28 519.40,270.15 526.60,269.70 C533.80,269.25 547.80,267.37 553.20,267.80 C558.60,268.23 558.03,271.55 559.00,272.30" fill="none" stroke="#bbbbbb" stroke-width="1.8" stroke-linejoin="round" stroke-linecap="round" />
<path d="M420.10,257.10 C420.48,257.88 421.10,260.12 422.40,261.80 C423.70,263.48 425.42,265.63 427.90,267.20 C430.38,268.77 432.33,270.20 437.30,271.20 C442.27,272.20 448.08,272.95 457.70,273.20 C467.32,273.45 486.28,272.93 495.00,272.70 C503.72,272.47 506.95,272.17 510.00,271.80 C513.05,271.43 511.42,270.42 513.30,270.50 C515.18,270.58 519.97,272.00 521.30,272.30" fill="none" stroke="#11ffff" stroke-width="1.8" stroke-linejoin="round" stroke-linecap="round" />
<path d="M406.00,275.20 C408.33,275.30 412.95,275.65 420.00,275.80 C427.05,275.95 439.40,275.80 448.30,276.10 C457.20,276.40 467.27,277.47 473.40,277.60 C479.53,277.73 483.15,277.02 485.10,276.90" fill="none" stroke="#1166c0" stroke-width="1.8" stroke-linejoin="round" stroke-linecap="round" />
<path d="M406.00,274.30 C406.38,274.43 407.52,275.10 408.30,275.10 C409.08,275.10 409.92,274.17 410.70,274.30 C411.48,274.43 409.78,275.70 413.00,275.90 C416.22,276.10 424.12,275.63 430.00,275.50 C435.88,275.37 445.25,275.17 448.30,275.10" fill="none" stroke="#dd33ff" stroke-width="1.8" stroke-linejoin="round" stroke-linecap="round" />
<text x="389.50" y="219.40" font-size="12" text-anchor="start" fill="#000" >(d)</text>
<text x="417.00" y="212.60" font-size="12" text-anchor="start" fill="#000" >full</text>
<text x="412.60" y="229.00" font-size="12" text-anchor="start" fill="#808080" >225</text>
<text x="407.40" y="251.80" font-size="12" text-anchor="start" fill="#14eef8" >175</text>
<text x="395.20" y="270.00" font-size="12" text-anchor="start" fill="#1466c4" >125</text>
<text x="389.20" y="282.60" font-size="12" text-anchor="start" fill="#d935fa" >75</text>
<text x="592.40" y="220.30" font-size="12" text-anchor="start" fill="#000" font-style="italic">Q</text>
<circle cx="597.6" cy="208.6" r="0.8" fill="#000"/>
<text x="601.50" y="223.20" font-size="9.2" text-anchor="start" fill="#000" font-style="italic">hys,dis</text>
<text x="68.40" y="28.40" font-size="12.2" text-anchor="start" fill="#000" >(a) 1. charge</text>
<line x1="139.4" y1="24.4" x2="166" y2="24.4" stroke="#333" stroke-width="1"/>
<path d="M164.9,21.8 L173.6,24.4 L164.9,27 Z" fill="#000"/>
<line x1="69.1" y1="41.8" x2="97.4" y2="41.8" stroke="#000" stroke-width="1.6"/>
<text x="100.90" y="46.50" font-size="12" text-anchor="start" fill="#000" font-style="italic">Q</text>
<circle cx="106.8" cy="35.4" r="0.8" fill="#000"/>
<text x="110.60" y="49.90" font-size="8.7" text-anchor="start" fill="#000" font-style="italic">IMC</text>
<line x1="69.1" y1="60" x2="97.4" y2="60" stroke="#000" stroke-width="1.6"/>
<circle cx="83.3" cy="60" r="2.0" fill="#000"/>
<text x="100.90" y="64.20" font-size="12" text-anchor="start" fill="#000" font-style="italic">Q</text>
<circle cx="106.8" cy="53.6" r="0.8" fill="#000"/>
<text x="110.60" y="68.00" font-size="8.7" text-anchor="start" fill="#000" font-style="italic">irrev</text>
<text x="561.60" y="26.00" font-size="12" text-anchor="start" fill="#000" >1. discharge</text>
<text x="386.20" y="23.40" font-size="12" text-anchor="start" fill="#000" >(b)</text>
<line x1="532" y1="21.9" x2="558.8" y2="21.9" stroke="#999" stroke-width="2"/>
<path d="M523.9,21.9 L533,19.3 L533,24.5 Z" fill="#000"/>
<line x1="567.9" y1="37.5" x2="596.8" y2="37.5" stroke="#000" stroke-width="1.6"/>
<text x="600.30" y="41.80" font-size="12" text-anchor="start" fill="#000" font-style="italic">Q</text>
<circle cx="606.2" cy="31.0" r="0.8" fill="#000"/>
<text x="609.70" y="45.90" font-size="8.7" text-anchor="start" fill="#000" font-style="italic">IMC</text>
<line x1="567.9" y1="56.0" x2="596.8" y2="56.0" stroke="#000" stroke-width="1.6"/>
<circle cx="582.4" cy="56.0" r="2.0" fill="#000"/>
<text x="600.30" y="60.00" font-size="12" text-anchor="start" fill="#000" font-style="italic">Q</text>
<circle cx="606.2" cy="49.4" r="0.8" fill="#000"/>
<text x="609.70" y="63.90" font-size="8.7" text-anchor="start" fill="#000" font-style="italic">irrev</text>
<line x1="99.1" y1="348.2" x2="127.6" y2="348.2" stroke="#dd33ff" stroke-width="2"/>
<text x="131.00" y="353.10" font-size="12" text-anchor="start" fill="#000" >0-75 mAh/g</text>
<line x1="197.1" y1="348.2" x2="224.7" y2="348.2" stroke="#1166c0" stroke-width="2"/>
<text x="228.60" y="353.10" font-size="12" text-anchor="start" fill="#000" >0-125 mAh/g</text>
<line x1="301.7" y1="348.2" x2="329.6" y2="348.2" stroke="#11ffff" stroke-width="2"/>
<text x="332.60" y="353.10" font-size="12" text-anchor="start" fill="#000" >0-175 mAh/g</text>
<line x1="406" y1="348.2" x2="434" y2="348.2" stroke="#bbbbbb" stroke-width="2"/>
<text x="436.90" y="353.10" font-size="12" text-anchor="start" fill="#000" >0-225 mAh/g</text>
<line x1="510.2" y1="348.2" x2="538.7" y2="348.2" stroke="#000000" stroke-width="1.6"/>
<text x="541.40" y="353.10" font-size="12" text-anchor="start" fill="#000" >full cycle</text>
</svg></body></html>
